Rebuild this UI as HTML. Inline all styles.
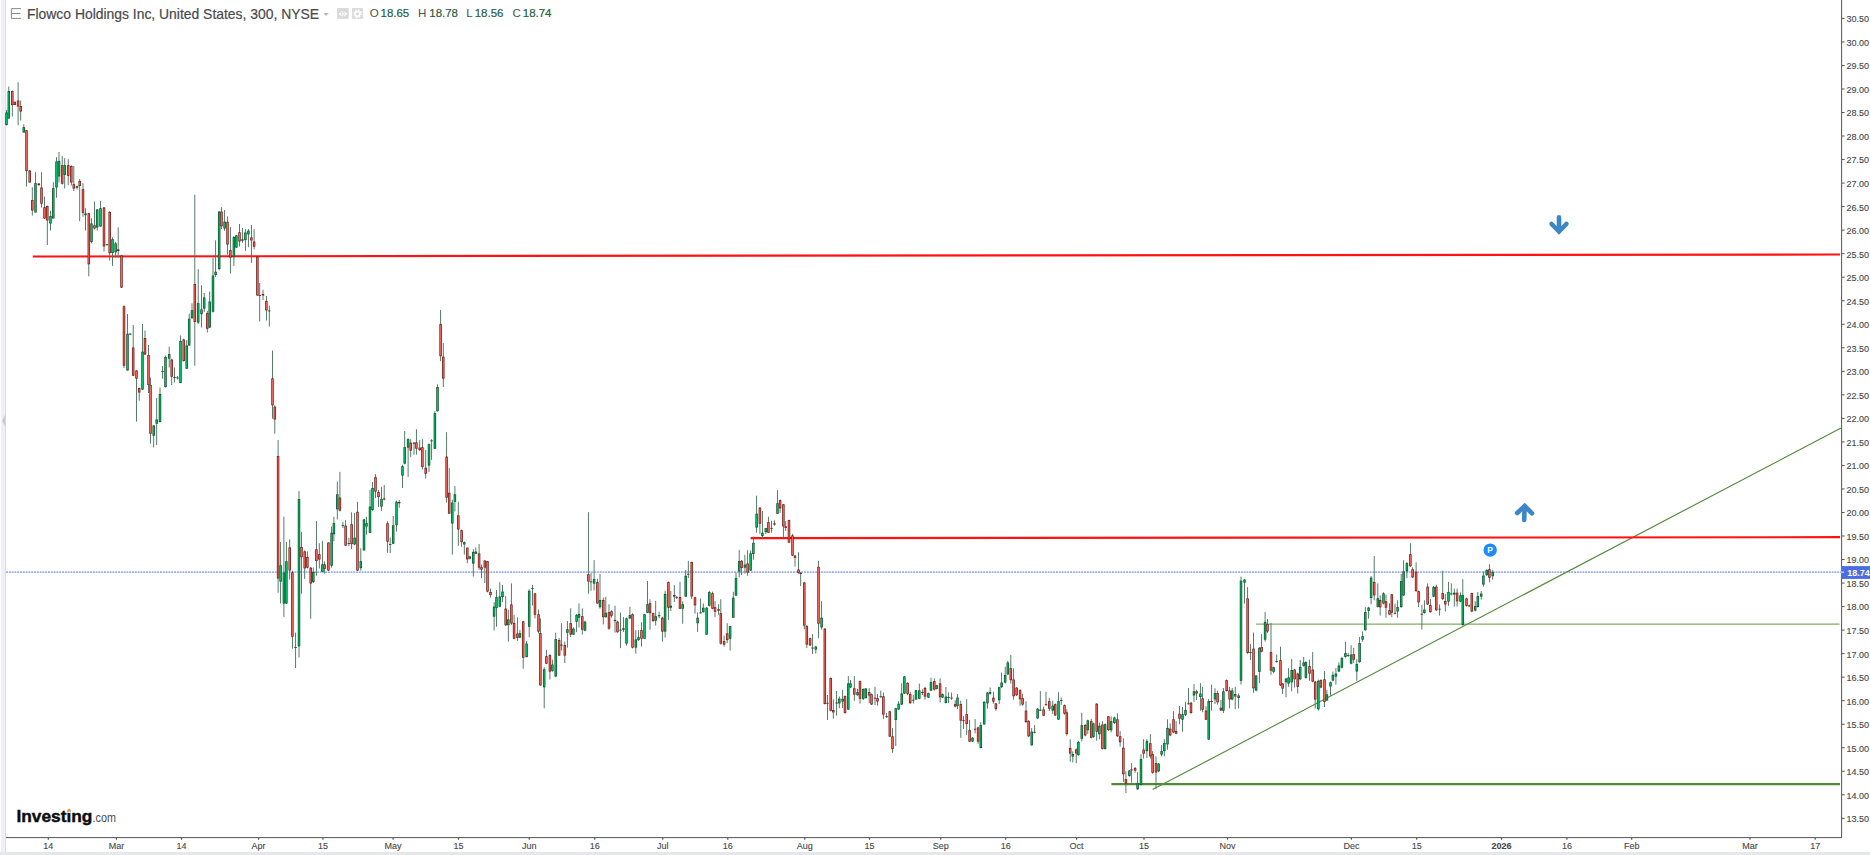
<!DOCTYPE html><html><head><meta charset="utf-8"><title>Flowco Holdings Inc chart</title>
<style>
html,body{margin:0;padding:0;background:#fff;}
body{width:1870px;height:855px;overflow:hidden;position:relative;font-family:"Liberation Sans",sans-serif;}
svg{position:absolute;left:0;top:0;}
text{font-family:"Liberation Sans",sans-serif;}
.ax{font-size:9px;fill:#484848;stroke:#484848;stroke-width:0.12;}
.tt{font-size:14.1px;fill:#4a4a4a;stroke:#4a4a4a;stroke-width:0.2;}
.oh{font-size:11.6px;fill:#4f4f4f;}
.ov{font-size:11.6px;fill:#25603c;stroke:#25603c;stroke-width:0.2;}
</style></head><body>
<svg width="1870" height="855" viewBox="0 0 1870 855">
<rect width="1870" height="855" fill="#fff"/>
<rect x="1" y="0" width="4.3" height="853" fill="#eff0f5"/>
<rect x="5" y="0" width="1" height="853" fill="#dcdfe6"/>
<path d="M5.3 414.5 L2.2 420.5 L5.3 426.5 Z" fill="#c8c8c8"/>
<rect x="0" y="852" width="1870" height="3" fill="#e6e7ea"/>
<rect x="1841" y="0" width="1.1" height="838" fill="#636363"/>
<rect x="6" y="837" width="1836" height="1.1" fill="#636363"/>
<rect x="1842" y="17.90" width="2.6" height="1" fill="#555"/>
<text class="ax" x="1846.6" y="22.30">30.50</text>
<rect x="1842" y="41.43" width="2.6" height="1" fill="#555"/>
<text class="ax" x="1846.6" y="45.83">30.00</text>
<rect x="1842" y="64.95" width="2.6" height="1" fill="#555"/>
<text class="ax" x="1846.6" y="69.35">29.50</text>
<rect x="1842" y="88.48" width="2.6" height="1" fill="#555"/>
<text class="ax" x="1846.6" y="92.88">29.00</text>
<rect x="1842" y="112.01" width="2.6" height="1" fill="#555"/>
<text class="ax" x="1846.6" y="116.41">28.50</text>
<rect x="1842" y="135.53" width="2.6" height="1" fill="#555"/>
<text class="ax" x="1846.6" y="139.94">28.00</text>
<rect x="1842" y="159.06" width="2.6" height="1" fill="#555"/>
<text class="ax" x="1846.6" y="163.46">27.50</text>
<rect x="1842" y="182.59" width="2.6" height="1" fill="#555"/>
<text class="ax" x="1846.6" y="186.99">27.00</text>
<rect x="1842" y="206.12" width="2.6" height="1" fill="#555"/>
<text class="ax" x="1846.6" y="210.52">26.50</text>
<rect x="1842" y="229.64" width="2.6" height="1" fill="#555"/>
<text class="ax" x="1846.6" y="234.04">26.00</text>
<rect x="1842" y="253.17" width="2.6" height="1" fill="#555"/>
<text class="ax" x="1846.6" y="257.57">25.50</text>
<rect x="1842" y="276.70" width="2.6" height="1" fill="#555"/>
<text class="ax" x="1846.6" y="281.10">25.00</text>
<rect x="1842" y="300.22" width="2.6" height="1" fill="#555"/>
<text class="ax" x="1846.6" y="304.62">24.50</text>
<rect x="1842" y="323.75" width="2.6" height="1" fill="#555"/>
<text class="ax" x="1846.6" y="328.15">24.00</text>
<rect x="1842" y="347.28" width="2.6" height="1" fill="#555"/>
<text class="ax" x="1846.6" y="351.68">23.50</text>
<rect x="1842" y="370.81" width="2.6" height="1" fill="#555"/>
<text class="ax" x="1846.6" y="375.20">23.00</text>
<rect x="1842" y="394.33" width="2.6" height="1" fill="#555"/>
<text class="ax" x="1846.6" y="398.73">22.50</text>
<rect x="1842" y="417.86" width="2.6" height="1" fill="#555"/>
<text class="ax" x="1846.6" y="422.26">22.00</text>
<rect x="1842" y="441.39" width="2.6" height="1" fill="#555"/>
<text class="ax" x="1846.6" y="445.79">21.50</text>
<rect x="1842" y="464.91" width="2.6" height="1" fill="#555"/>
<text class="ax" x="1846.6" y="469.31">21.00</text>
<rect x="1842" y="488.44" width="2.6" height="1" fill="#555"/>
<text class="ax" x="1846.6" y="492.84">20.50</text>
<rect x="1842" y="511.97" width="2.6" height="1" fill="#555"/>
<text class="ax" x="1846.6" y="516.37">20.00</text>
<rect x="1842" y="535.49" width="2.6" height="1" fill="#555"/>
<text class="ax" x="1846.6" y="539.89">19.50</text>
<rect x="1842" y="559.02" width="2.6" height="1" fill="#555"/>
<text class="ax" x="1846.6" y="563.42">19.00</text>
<rect x="1842" y="582.55" width="2.6" height="1" fill="#555"/>
<text class="ax" x="1846.6" y="586.95">18.50</text>
<rect x="1842" y="606.08" width="2.6" height="1" fill="#555"/>
<text class="ax" x="1846.6" y="610.48">18.00</text>
<rect x="1842" y="629.60" width="2.6" height="1" fill="#555"/>
<text class="ax" x="1846.6" y="634.00">17.50</text>
<rect x="1842" y="653.13" width="2.6" height="1" fill="#555"/>
<text class="ax" x="1846.6" y="657.53">17.00</text>
<rect x="1842" y="676.66" width="2.6" height="1" fill="#555"/>
<text class="ax" x="1846.6" y="681.06">16.50</text>
<rect x="1842" y="700.18" width="2.6" height="1" fill="#555"/>
<text class="ax" x="1846.6" y="704.58">16.00</text>
<rect x="1842" y="723.71" width="2.6" height="1" fill="#555"/>
<text class="ax" x="1846.6" y="728.11">15.50</text>
<rect x="1842" y="747.24" width="2.6" height="1" fill="#555"/>
<text class="ax" x="1846.6" y="751.64">15.00</text>
<rect x="1842" y="770.76" width="2.6" height="1" fill="#555"/>
<text class="ax" x="1846.6" y="775.16">14.50</text>
<rect x="1842" y="794.29" width="2.6" height="1" fill="#555"/>
<text class="ax" x="1846.6" y="798.69">14.00</text>
<rect x="1842" y="817.82" width="2.6" height="1" fill="#555"/>
<text class="ax" x="1846.6" y="822.22">13.50</text>
<rect x="47.7" y="838" width="1.2" height="1.7" fill="#555"/>
<text class="ax" x="48.3" y="848.5" text-anchor="middle">14</text>
<rect x="115.8" y="838" width="1.2" height="1.7" fill="#555"/>
<text class="ax" x="116.4" y="848.5" text-anchor="middle">Mar</text>
<rect x="180.9" y="838" width="1.2" height="1.7" fill="#555"/>
<text class="ax" x="181.5" y="848.5" text-anchor="middle">14</text>
<rect x="258.0" y="838" width="1.2" height="1.7" fill="#555"/>
<text class="ax" x="258.6" y="848.5" text-anchor="middle">Apr</text>
<rect x="322.3" y="838" width="1.2" height="1.7" fill="#555"/>
<text class="ax" x="322.9" y="848.5" text-anchor="middle">15</text>
<rect x="392.5" y="838" width="1.2" height="1.7" fill="#555"/>
<text class="ax" x="393.1" y="848.5" text-anchor="middle">May</text>
<rect x="457.9" y="838" width="1.2" height="1.7" fill="#555"/>
<text class="ax" x="458.5" y="848.5" text-anchor="middle">15</text>
<rect x="528.7" y="838" width="1.2" height="1.7" fill="#555"/>
<text class="ax" x="529.3" y="848.5" text-anchor="middle">Jun</text>
<rect x="594.1" y="838" width="1.2" height="1.7" fill="#555"/>
<text class="ax" x="594.7" y="848.5" text-anchor="middle">16</text>
<rect x="662.2" y="838" width="1.2" height="1.7" fill="#555"/>
<text class="ax" x="662.8" y="848.5" text-anchor="middle">Jul</text>
<rect x="727.2" y="838" width="1.2" height="1.7" fill="#555"/>
<text class="ax" x="727.8" y="848.5" text-anchor="middle">16</text>
<rect x="804.2" y="838" width="1.2" height="1.7" fill="#555"/>
<text class="ax" x="804.8" y="848.5" text-anchor="middle">Aug</text>
<rect x="868.9" y="838" width="1.2" height="1.7" fill="#555"/>
<text class="ax" x="869.5" y="848.5" text-anchor="middle">15</text>
<rect x="940.1" y="838" width="1.2" height="1.7" fill="#555"/>
<text class="ax" x="940.7" y="848.5" text-anchor="middle">Sep</text>
<rect x="1005.1" y="838" width="1.2" height="1.7" fill="#555"/>
<text class="ax" x="1005.7" y="848.5" text-anchor="middle">16</text>
<rect x="1076.0" y="838" width="1.2" height="1.7" fill="#555"/>
<text class="ax" x="1076.6" y="848.5" text-anchor="middle">Oct</text>
<rect x="1143.4" y="838" width="1.2" height="1.7" fill="#555"/>
<text class="ax" x="1144.0" y="848.5" text-anchor="middle">15</text>
<rect x="1226.9" y="838" width="1.2" height="1.7" fill="#555"/>
<text class="ax" x="1227.5" y="848.5" text-anchor="middle">Nov</text>
<rect x="1350.8" y="838" width="1.2" height="1.7" fill="#555"/>
<text class="ax" x="1351.4" y="848.5" text-anchor="middle">Dec</text>
<rect x="1416.1" y="838" width="1.2" height="1.7" fill="#555"/>
<text class="ax" x="1416.7" y="848.5" text-anchor="middle">15</text>
<rect x="1500.9" y="838" width="1.2" height="1.7" fill="#555"/>
<text class="ax" x="1501.5" y="848.5" text-anchor="middle" font-weight="bold">2026</text>
<rect x="1566.3" y="838" width="1.2" height="1.7" fill="#555"/>
<text class="ax" x="1566.9" y="848.5" text-anchor="middle">16</text>
<rect x="1631.1" y="838" width="1.2" height="1.7" fill="#555"/>
<text class="ax" x="1631.7" y="848.5" text-anchor="middle">Feb</text>
<rect x="1749.4" y="838" width="1.2" height="1.7" fill="#555"/>
<text class="ax" x="1750.0" y="848.5" text-anchor="middle">Mar</text>
<rect x="1814.6" y="838" width="1.2" height="1.7" fill="#555"/>
<text class="ax" x="1815.2" y="848.5" text-anchor="middle">17</text>
<line x1="6" y1="572.1" x2="1841" y2="572.1" stroke="#8fa4ee" stroke-width="1.7" stroke-dasharray="2 0.8" opacity="0.85"/>
<line x1="1111.4" y1="784.1" x2="1840" y2="784.1" stroke="#4d8c35" stroke-width="2.1"/>
<line x1="1256.1" y1="624.2" x2="1839.5" y2="624.2" stroke="#7fae66" stroke-width="1.3"/>
<line x1="1152.6" y1="789.6" x2="1841" y2="428" stroke="#568a3e" stroke-width="1.15"/>
<line x1="32.8" y1="256.5" x2="1840" y2="254.5" stroke="#ff1212" stroke-width="2.2"/>
<line x1="750.6" y1="538.2" x2="1840" y2="537.2" stroke="#ff1212" stroke-width="2.2"/>
<rect x="6.05" y="110.0" width="0.9" height="15.5" fill="#466e5a"/>
<rect x="5.25" y="112.5" width="2.5" height="12.5" fill="#0a5a2e"/>
<rect x="6.05" y="113.3" width="0.9" height="10.9" fill="#00c870"/>
<rect x="8.35" y="86.5" width="0.9" height="32.0" fill="#466e5a"/>
<rect x="7.55" y="91.0" width="2.5" height="27.5" fill="#0a5a2e"/>
<rect x="8.35" y="91.8" width="0.9" height="25.9" fill="#00c870"/>
<rect x="11.85" y="90.5" width="0.9" height="26.0" fill="#466e5a"/>
<rect x="11.05" y="91.0" width="2.5" height="14.0" fill="#7a1f1a"/>
<rect x="11.85" y="91.8" width="0.9" height="12.4" fill="#ff6a60"/>
<rect x="14.35" y="101.5" width="0.9" height="3.5" fill="#466e5a"/>
<rect x="13.55" y="101.8" width="2.5" height="3.2" fill="#7a1f1a"/>
<rect x="14.35" y="102.6" width="0.9" height="1.6" fill="#ff6a60"/>
<rect x="17.65" y="82.2" width="0.9" height="43.0" fill="#466e5a"/>
<rect x="16.85" y="100.5" width="2.5" height="6.0" fill="#7a1f1a"/>
<rect x="17.65" y="101.3" width="0.9" height="4.4" fill="#ff6a60"/>
<rect x="20.25" y="100.5" width="0.9" height="20.0" fill="#466e5a"/>
<rect x="19.45" y="106.0" width="2.5" height="5.5" fill="#7a1f1a"/>
<rect x="20.25" y="106.8" width="0.9" height="3.9" fill="#ff6a60"/>
<rect x="23.35" y="124.3" width="0.9" height="8.2" fill="#466e5a"/>
<rect x="22.55" y="127.2" width="2.5" height="5.3" fill="#0a5a2e"/>
<rect x="23.35" y="128.0" width="0.9" height="3.7" fill="#00c870"/>
<rect x="26.05" y="130.0" width="0.9" height="56.5" fill="#466e5a"/>
<rect x="25.25" y="130.3" width="2.5" height="40.7" fill="#7a1f1a"/>
<rect x="26.05" y="131.1" width="0.9" height="39.1" fill="#ff6a60"/>
<rect x="29.25" y="170.0" width="0.9" height="12.5" fill="#466e5a"/>
<rect x="28.45" y="170.5" width="2.5" height="12.0" fill="#7a1f1a"/>
<rect x="29.25" y="171.3" width="0.9" height="10.4" fill="#ff6a60"/>
<rect x="31.85" y="187.2" width="0.9" height="28.3" fill="#466e5a"/>
<rect x="31.05" y="200.0" width="2.5" height="10.5" fill="#7a1f1a"/>
<rect x="31.85" y="200.8" width="0.9" height="8.9" fill="#ff6a60"/>
<rect x="35.05" y="172.2" width="0.9" height="40.3" fill="#466e5a"/>
<rect x="34.25" y="183.2" width="2.5" height="29.3" fill="#0a5a2e"/>
<rect x="35.05" y="184.0" width="0.9" height="27.7" fill="#00c870"/>
<rect x="38.35" y="183.0" width="0.9" height="2.5" fill="#466e5a"/>
<rect x="37.55" y="183.5" width="2.5" height="1.7" fill="#7a1f1a"/>
<rect x="41.05" y="172.2" width="0.9" height="35.3" fill="#466e5a"/>
<rect x="40.25" y="187.5" width="2.5" height="16.2" fill="#7a1f1a"/>
<rect x="41.05" y="188.3" width="0.9" height="14.6" fill="#ff6a60"/>
<rect x="44.05" y="196.5" width="0.9" height="22.5" fill="#466e5a"/>
<rect x="43.25" y="207.2" width="2.5" height="11.3" fill="#7a1f1a"/>
<rect x="44.05" y="208.0" width="0.9" height="9.7" fill="#ff6a60"/>
<rect x="46.85" y="205.5" width="0.9" height="39.5" fill="#466e5a"/>
<rect x="46.05" y="206.0" width="2.5" height="14.5" fill="#7a1f1a"/>
<rect x="46.85" y="206.8" width="0.9" height="12.9" fill="#ff6a60"/>
<rect x="50.05" y="210.8" width="0.9" height="19.7" fill="#466e5a"/>
<rect x="49.25" y="216.0" width="2.5" height="7.5" fill="#0a5a2e"/>
<rect x="50.05" y="216.8" width="0.9" height="5.9" fill="#00c870"/>
<rect x="52.85" y="182.2" width="0.9" height="36.3" fill="#466e5a"/>
<rect x="52.05" y="188.2" width="2.5" height="30.3" fill="#0a5a2e"/>
<rect x="52.85" y="189.0" width="0.9" height="28.7" fill="#00c870"/>
<rect x="56.05" y="157.2" width="0.9" height="40.6" fill="#466e5a"/>
<rect x="55.25" y="161.5" width="2.5" height="26.0" fill="#0a5a2e"/>
<rect x="56.05" y="162.3" width="0.9" height="24.4" fill="#00c870"/>
<rect x="58.55" y="152.0" width="0.9" height="30.5" fill="#466e5a"/>
<rect x="57.75" y="161.0" width="2.5" height="15.5" fill="#0a5a2e"/>
<rect x="58.55" y="161.8" width="0.9" height="13.9" fill="#00c870"/>
<rect x="61.75" y="156.2" width="0.9" height="28.3" fill="#466e5a"/>
<rect x="60.95" y="165.2" width="2.5" height="18.5" fill="#7a1f1a"/>
<rect x="61.75" y="166.0" width="0.9" height="16.9" fill="#ff6a60"/>
<rect x="64.25" y="158.2" width="0.9" height="30.3" fill="#466e5a"/>
<rect x="63.45" y="165.2" width="2.5" height="9.8" fill="#0a5a2e"/>
<rect x="64.25" y="166.0" width="0.9" height="8.2" fill="#00c870"/>
<rect x="67.75" y="159.2" width="0.9" height="26.0" fill="#466e5a"/>
<rect x="66.95" y="165.2" width="2.5" height="10.6" fill="#7a1f1a"/>
<rect x="67.75" y="166.0" width="0.9" height="9.0" fill="#ff6a60"/>
<rect x="70.85" y="165.5" width="0.9" height="20.0" fill="#466e5a"/>
<rect x="70.05" y="166.0" width="2.5" height="16.5" fill="#7a1f1a"/>
<rect x="70.85" y="166.8" width="0.9" height="14.9" fill="#ff6a60"/>
<rect x="73.35" y="166.0" width="0.9" height="25.0" fill="#466e5a"/>
<rect x="72.55" y="184.2" width="2.5" height="4.3" fill="#7a1f1a"/>
<rect x="73.35" y="185.0" width="0.9" height="2.7" fill="#ff6a60"/>
<rect x="76.55" y="185.5" width="0.9" height="4.0" fill="#466e5a"/>
<rect x="75.75" y="186.2" width="2.5" height="1.6" fill="#0a5a2e"/>
<rect x="79.25" y="179.0" width="0.9" height="42.2" fill="#466e5a"/>
<rect x="78.45" y="181.0" width="2.5" height="5.0" fill="#7a1f1a"/>
<rect x="79.25" y="181.8" width="0.9" height="3.4" fill="#ff6a60"/>
<rect x="82.55" y="183.2" width="0.9" height="33.6" fill="#466e5a"/>
<rect x="81.75" y="189.2" width="2.5" height="23.6" fill="#7a1f1a"/>
<rect x="82.55" y="190.0" width="0.9" height="22.0" fill="#ff6a60"/>
<rect x="85.05" y="208.2" width="0.9" height="22.3" fill="#466e5a"/>
<rect x="84.25" y="213.5" width="2.5" height="1.7" fill="#0a5a2e"/>
<rect x="88.35" y="213.0" width="0.9" height="63.3" fill="#466e5a"/>
<rect x="87.55" y="213.2" width="2.5" height="51.1" fill="#7a1f1a"/>
<rect x="88.35" y="214.0" width="0.9" height="49.5" fill="#ff6a60"/>
<rect x="91.05" y="218.2" width="0.9" height="25.2" fill="#466e5a"/>
<rect x="90.25" y="223.5" width="2.5" height="18.4" fill="#0a5a2e"/>
<rect x="91.05" y="224.3" width="0.9" height="16.8" fill="#00c870"/>
<rect x="94.05" y="201.5" width="0.9" height="28.0" fill="#466e5a"/>
<rect x="93.25" y="225.2" width="2.5" height="3.3" fill="#7a1f1a"/>
<rect x="94.05" y="226.0" width="0.9" height="1.7" fill="#ff6a60"/>
<rect x="96.75" y="209.0" width="0.9" height="21.5" fill="#466e5a"/>
<rect x="95.95" y="209.5" width="2.5" height="18.0" fill="#0a5a2e"/>
<rect x="96.75" y="210.3" width="0.9" height="16.4" fill="#00c870"/>
<rect x="100.05" y="200.8" width="0.9" height="26.0" fill="#466e5a"/>
<rect x="99.25" y="208.2" width="2.5" height="18.3" fill="#0a5a2e"/>
<rect x="100.05" y="209.0" width="0.9" height="16.7" fill="#00c870"/>
<rect x="103.55" y="207.0" width="0.9" height="44.6" fill="#466e5a"/>
<rect x="102.75" y="207.5" width="2.5" height="38.9" fill="#7a1f1a"/>
<rect x="103.55" y="208.3" width="0.9" height="37.3" fill="#ff6a60"/>
<rect x="106.55" y="244.0" width="0.9" height="1.5" fill="#466e5a"/>
<rect x="105.75" y="244.3" width="2.5" height="0.9" fill="#0a5a2e"/>
<rect x="109.25" y="211.2" width="0.9" height="49.4" fill="#466e5a"/>
<rect x="108.45" y="212.0" width="2.5" height="41.1" fill="#7a1f1a"/>
<rect x="109.25" y="212.8" width="0.9" height="39.5" fill="#ff6a60"/>
<rect x="112.05" y="237.4" width="0.9" height="28.5" fill="#466e5a"/>
<rect x="111.25" y="239.2" width="2.5" height="13.9" fill="#0a5a2e"/>
<rect x="112.05" y="240.0" width="0.9" height="12.3" fill="#00c870"/>
<rect x="115.15" y="241.9" width="0.9" height="15.7" fill="#466e5a"/>
<rect x="114.35" y="243.4" width="2.5" height="9.0" fill="#0a5a2e"/>
<rect x="115.15" y="244.2" width="0.9" height="7.4" fill="#00c870"/>
<rect x="117.75" y="227.3" width="0.9" height="30.4" fill="#466e5a"/>
<rect x="116.95" y="249.3" width="2.5" height="1.7" fill="#7a1f1a"/>
<rect x="121.05" y="255.0" width="0.9" height="33.0" fill="#466e5a"/>
<rect x="120.25" y="255.4" width="2.5" height="32.2" fill="#7a1f1a"/>
<rect x="121.05" y="256.2" width="0.9" height="30.6" fill="#ff6a60"/>
<rect x="123.55" y="305.5" width="0.9" height="62.5" fill="#466e5a"/>
<rect x="122.75" y="306.3" width="2.5" height="59.4" fill="#7a1f1a"/>
<rect x="123.55" y="307.1" width="0.9" height="57.8" fill="#ff6a60"/>
<rect x="127.05" y="314.0" width="0.9" height="56.5" fill="#466e5a"/>
<rect x="126.25" y="333.7" width="2.5" height="36.8" fill="#0a5a2e"/>
<rect x="127.05" y="334.5" width="0.9" height="35.2" fill="#00c870"/>
<rect x="129.75" y="333.0" width="0.9" height="2.0" fill="#466e5a"/>
<rect x="128.95" y="333.7" width="2.5" height="0.9" fill="#0a5a2e"/>
<rect x="132.75" y="325.0" width="0.9" height="51.0" fill="#466e5a"/>
<rect x="131.95" y="347.5" width="2.5" height="28.2" fill="#7a1f1a"/>
<rect x="132.75" y="348.3" width="0.9" height="26.6" fill="#ff6a60"/>
<rect x="136.05" y="370.0" width="0.9" height="51.7" fill="#466e5a"/>
<rect x="135.25" y="370.5" width="2.5" height="8.2" fill="#7a1f1a"/>
<rect x="136.05" y="371.3" width="0.9" height="6.6" fill="#ff6a60"/>
<rect x="138.75" y="387.5" width="0.9" height="13.2" fill="#466e5a"/>
<rect x="137.95" y="388.0" width="2.5" height="4.5" fill="#7a1f1a"/>
<rect x="138.75" y="388.8" width="0.9" height="2.9" fill="#ff6a60"/>
<rect x="142.05" y="324.0" width="0.9" height="66.0" fill="#466e5a"/>
<rect x="141.25" y="351.7" width="2.5" height="37.8" fill="#0a5a2e"/>
<rect x="142.05" y="352.5" width="0.9" height="36.2" fill="#00c870"/>
<rect x="144.55" y="330.5" width="0.9" height="24.5" fill="#466e5a"/>
<rect x="143.75" y="338.0" width="2.5" height="16.5" fill="#7a1f1a"/>
<rect x="144.55" y="338.8" width="0.9" height="14.9" fill="#ff6a60"/>
<rect x="148.05" y="345.0" width="0.9" height="48.0" fill="#466e5a"/>
<rect x="147.25" y="355.0" width="2.5" height="30.0" fill="#7a1f1a"/>
<rect x="148.05" y="355.8" width="0.9" height="28.4" fill="#ff6a60"/>
<rect x="150.05" y="377.5" width="0.9" height="66.2" fill="#466e5a"/>
<rect x="149.25" y="385.0" width="2.5" height="48.7" fill="#7a1f1a"/>
<rect x="150.05" y="385.8" width="0.9" height="47.1" fill="#ff6a60"/>
<rect x="153.25" y="425.0" width="0.9" height="22.5" fill="#466e5a"/>
<rect x="152.45" y="425.5" width="2.5" height="10.2" fill="#0a5a2e"/>
<rect x="153.25" y="426.3" width="0.9" height="8.6" fill="#00c870"/>
<rect x="156.25" y="398.0" width="0.9" height="47.0" fill="#466e5a"/>
<rect x="155.45" y="419.5" width="2.5" height="4.2" fill="#0a5a2e"/>
<rect x="156.25" y="420.3" width="0.9" height="2.6" fill="#00c870"/>
<rect x="159.55" y="387.5" width="0.9" height="35.0" fill="#466e5a"/>
<rect x="158.75" y="394.0" width="2.5" height="28.0" fill="#0a5a2e"/>
<rect x="159.55" y="394.8" width="0.9" height="26.4" fill="#00c870"/>
<rect x="162.05" y="366.0" width="0.9" height="12.7" fill="#466e5a"/>
<rect x="161.25" y="371.0" width="2.5" height="0.9" fill="#0a5a2e"/>
<rect x="165.05" y="355.5" width="0.9" height="32.0" fill="#466e5a"/>
<rect x="164.25" y="357.0" width="2.5" height="30.0" fill="#0a5a2e"/>
<rect x="165.05" y="357.8" width="0.9" height="28.4" fill="#00c870"/>
<rect x="168.75" y="346.7" width="0.9" height="20.8" fill="#466e5a"/>
<rect x="167.95" y="354.0" width="2.5" height="4.7" fill="#0a5a2e"/>
<rect x="168.75" y="354.8" width="0.9" height="3.1" fill="#00c870"/>
<rect x="171.25" y="358.7" width="0.9" height="26.3" fill="#466e5a"/>
<rect x="170.45" y="359.5" width="2.5" height="17.2" fill="#7a1f1a"/>
<rect x="171.25" y="360.3" width="0.9" height="15.6" fill="#ff6a60"/>
<rect x="174.05" y="367.5" width="0.9" height="15.0" fill="#466e5a"/>
<rect x="173.25" y="377.0" width="2.5" height="0.9" fill="#7a1f1a"/>
<rect x="177.05" y="376.0" width="0.9" height="3.5" fill="#466e5a"/>
<rect x="176.25" y="377.4" width="2.5" height="0.9" fill="#0a5a2e"/>
<rect x="180.05" y="335.5" width="0.9" height="47.5" fill="#466e5a"/>
<rect x="179.25" y="341.0" width="2.5" height="42.0" fill="#0a5a2e"/>
<rect x="180.05" y="341.8" width="0.9" height="40.4" fill="#00c870"/>
<rect x="183.25" y="338.7" width="0.9" height="23.0" fill="#466e5a"/>
<rect x="182.45" y="339.5" width="2.5" height="21.5" fill="#7a1f1a"/>
<rect x="183.25" y="340.3" width="0.9" height="19.9" fill="#ff6a60"/>
<rect x="186.25" y="340.0" width="0.9" height="29.0" fill="#466e5a"/>
<rect x="185.45" y="345.5" width="2.5" height="23.2" fill="#0a5a2e"/>
<rect x="186.25" y="346.3" width="0.9" height="21.6" fill="#00c870"/>
<rect x="188.75" y="313.7" width="0.9" height="32.0" fill="#466e5a"/>
<rect x="187.95" y="318.7" width="2.5" height="26.8" fill="#0a5a2e"/>
<rect x="188.75" y="319.5" width="0.9" height="25.2" fill="#00c870"/>
<rect x="191.55" y="303.2" width="0.9" height="15.5" fill="#466e5a"/>
<rect x="190.75" y="310.2" width="2.5" height="8.0" fill="#0a5a2e"/>
<rect x="191.55" y="311.0" width="0.9" height="6.4" fill="#00c870"/>
<rect x="194.35" y="194.7" width="0.9" height="171.0" fill="#466e5a"/>
<rect x="193.55" y="284.0" width="2.5" height="38.0" fill="#7a1f1a"/>
<rect x="194.35" y="284.8" width="0.9" height="36.4" fill="#ff6a60"/>
<rect x="197.75" y="269.1" width="0.9" height="54.9" fill="#466e5a"/>
<rect x="196.95" y="303.2" width="2.5" height="19.4" fill="#0a5a2e"/>
<rect x="197.75" y="304.0" width="0.9" height="17.8" fill="#00c870"/>
<rect x="201.05" y="285.2" width="0.9" height="42.3" fill="#466e5a"/>
<rect x="200.25" y="309.4" width="2.5" height="4.8" fill="#0a5a2e"/>
<rect x="201.05" y="310.2" width="0.9" height="3.2" fill="#00c870"/>
<rect x="203.75" y="293.0" width="0.9" height="19.0" fill="#466e5a"/>
<rect x="202.95" y="297.5" width="2.5" height="11.1" fill="#0a5a2e"/>
<rect x="203.75" y="298.3" width="0.9" height="9.5" fill="#00c870"/>
<rect x="206.85" y="311.0" width="0.9" height="21.5" fill="#466e5a"/>
<rect x="206.05" y="313.2" width="2.5" height="15.5" fill="#7a1f1a"/>
<rect x="206.85" y="314.0" width="0.9" height="13.9" fill="#ff6a60"/>
<rect x="209.25" y="291.5" width="0.9" height="36.5" fill="#466e5a"/>
<rect x="208.45" y="301.5" width="2.5" height="26.0" fill="#0a5a2e"/>
<rect x="209.25" y="302.3" width="0.9" height="24.4" fill="#00c870"/>
<rect x="212.55" y="257.5" width="0.9" height="55.0" fill="#466e5a"/>
<rect x="211.75" y="275.6" width="2.5" height="36.1" fill="#0a5a2e"/>
<rect x="212.55" y="276.4" width="0.9" height="34.5" fill="#00c870"/>
<rect x="215.15" y="240.4" width="0.9" height="36.6" fill="#466e5a"/>
<rect x="214.35" y="271.7" width="2.5" height="3.3" fill="#0a5a2e"/>
<rect x="215.15" y="272.5" width="0.9" height="1.7" fill="#00c870"/>
<rect x="218.75" y="211.2" width="0.9" height="59.2" fill="#466e5a"/>
<rect x="217.95" y="211.5" width="2.5" height="57.4" fill="#0a5a2e"/>
<rect x="218.75" y="212.3" width="0.9" height="55.8" fill="#00c870"/>
<rect x="221.05" y="207.2" width="0.9" height="21.8" fill="#466e5a"/>
<rect x="220.25" y="211.7" width="2.5" height="14.6" fill="#7a1f1a"/>
<rect x="221.05" y="212.5" width="0.9" height="13.0" fill="#ff6a60"/>
<rect x="224.15" y="210.0" width="0.9" height="20.8" fill="#466e5a"/>
<rect x="223.35" y="221.7" width="2.5" height="6.8" fill="#0a5a2e"/>
<rect x="224.15" y="222.5" width="0.9" height="5.2" fill="#00c870"/>
<rect x="227.05" y="216.4" width="0.9" height="38.2" fill="#466e5a"/>
<rect x="226.25" y="221.8" width="2.5" height="22.7" fill="#7a1f1a"/>
<rect x="227.05" y="222.6" width="0.9" height="21.1" fill="#ff6a60"/>
<rect x="229.95" y="227.1" width="0.9" height="46.3" fill="#466e5a"/>
<rect x="229.15" y="250.1" width="2.5" height="7.5" fill="#7a1f1a"/>
<rect x="229.95" y="250.9" width="0.9" height="5.9" fill="#ff6a60"/>
<rect x="233.45" y="236.0" width="0.9" height="29.9" fill="#466e5a"/>
<rect x="232.65" y="237.1" width="2.5" height="20.1" fill="#0a5a2e"/>
<rect x="233.45" y="237.9" width="0.9" height="18.5" fill="#00c870"/>
<rect x="235.95" y="235.0" width="0.9" height="13.0" fill="#466e5a"/>
<rect x="235.15" y="235.3" width="2.5" height="12.3" fill="#0a5a2e"/>
<rect x="235.95" y="236.1" width="0.9" height="10.7" fill="#00c870"/>
<rect x="239.05" y="224.0" width="0.9" height="22.4" fill="#466e5a"/>
<rect x="238.25" y="232.2" width="2.5" height="9.3" fill="#7a1f1a"/>
<rect x="239.05" y="233.0" width="0.9" height="7.7" fill="#ff6a60"/>
<rect x="241.95" y="227.8" width="0.9" height="14.9" fill="#466e5a"/>
<rect x="241.15" y="239.3" width="2.5" height="1.4" fill="#0a5a2e"/>
<rect x="244.95" y="229.2" width="0.9" height="21.7" fill="#466e5a"/>
<rect x="244.15" y="232.5" width="2.5" height="7.6" fill="#0a5a2e"/>
<rect x="244.95" y="233.3" width="0.9" height="6.0" fill="#00c870"/>
<rect x="247.95" y="229.0" width="0.9" height="18.2" fill="#466e5a"/>
<rect x="247.15" y="230.7" width="2.5" height="3.7" fill="#0a5a2e"/>
<rect x="247.95" y="231.5" width="0.9" height="2.1" fill="#00c870"/>
<rect x="250.95" y="224.9" width="0.9" height="38.0" fill="#466e5a"/>
<rect x="250.15" y="237.4" width="2.5" height="3.0" fill="#7a1f1a"/>
<rect x="250.95" y="238.2" width="0.9" height="1.4" fill="#ff6a60"/>
<rect x="253.65" y="229.2" width="0.9" height="20.2" fill="#466e5a"/>
<rect x="252.85" y="241.6" width="2.5" height="5.1" fill="#7a1f1a"/>
<rect x="253.65" y="242.4" width="0.9" height="3.5" fill="#ff6a60"/>
<rect x="256.95" y="256.0" width="0.9" height="39.8" fill="#466e5a"/>
<rect x="256.15" y="256.6" width="2.5" height="38.8" fill="#7a1f1a"/>
<rect x="256.95" y="257.4" width="0.9" height="37.2" fill="#ff6a60"/>
<rect x="259.25" y="283.0" width="0.9" height="38.4" fill="#466e5a"/>
<rect x="258.45" y="295.0" width="2.5" height="0.9" fill="#7a1f1a"/>
<rect x="262.55" y="289.8" width="0.9" height="10.2" fill="#466e5a"/>
<rect x="261.75" y="294.0" width="2.5" height="1.5" fill="#7a1f1a"/>
<rect x="265.95" y="295.9" width="0.9" height="24.7" fill="#466e5a"/>
<rect x="265.15" y="300.9" width="2.5" height="9.5" fill="#7a1f1a"/>
<rect x="265.95" y="301.7" width="0.9" height="7.9" fill="#ff6a60"/>
<rect x="268.85" y="305.6" width="0.9" height="21.0" fill="#466e5a"/>
<rect x="268.05" y="310.5" width="2.5" height="0.9" fill="#0a5a2e"/>
<rect x="272.05" y="350.6" width="0.9" height="68.1" fill="#466e5a"/>
<rect x="271.25" y="378.3" width="2.5" height="27.0" fill="#7a1f1a"/>
<rect x="272.05" y="379.1" width="0.9" height="25.4" fill="#ff6a60"/>
<rect x="274.35" y="405.2" width="0.9" height="28.5" fill="#466e5a"/>
<rect x="273.55" y="406.7" width="2.5" height="12.8" fill="#7a1f1a"/>
<rect x="274.35" y="407.5" width="0.9" height="11.2" fill="#ff6a60"/>
<rect x="277.65" y="440.1" width="0.9" height="152.7" fill="#466e5a"/>
<rect x="276.85" y="456.1" width="2.5" height="122.4" fill="#7a1f1a"/>
<rect x="277.65" y="456.9" width="0.9" height="120.8" fill="#ff6a60"/>
<rect x="280.15" y="541.9" width="0.9" height="61.5" fill="#466e5a"/>
<rect x="279.35" y="565.3" width="2.5" height="16.3" fill="#0a5a2e"/>
<rect x="280.15" y="566.1" width="0.9" height="14.7" fill="#00c870"/>
<rect x="283.45" y="516.8" width="0.9" height="100.1" fill="#466e5a"/>
<rect x="282.65" y="572.6" width="2.5" height="31.0" fill="#0a5a2e"/>
<rect x="283.45" y="573.4" width="0.9" height="29.4" fill="#00c870"/>
<rect x="285.95" y="541.9" width="0.9" height="62.1" fill="#466e5a"/>
<rect x="285.15" y="561.3" width="2.5" height="42.2" fill="#0a5a2e"/>
<rect x="285.95" y="562.1" width="0.9" height="40.6" fill="#00c870"/>
<rect x="289.25" y="539.3" width="0.9" height="40.3" fill="#466e5a"/>
<rect x="288.45" y="547.4" width="2.5" height="23.1" fill="#7a1f1a"/>
<rect x="289.25" y="548.2" width="0.9" height="21.5" fill="#ff6a60"/>
<rect x="291.95" y="570.6" width="0.9" height="78.2" fill="#466e5a"/>
<rect x="291.15" y="572.3" width="2.5" height="64.4" fill="#7a1f1a"/>
<rect x="291.95" y="573.1" width="0.9" height="62.8" fill="#ff6a60"/>
<rect x="295.15" y="632.6" width="0.9" height="35.4" fill="#466e5a"/>
<rect x="294.35" y="647.0" width="2.5" height="0.9" fill="#0a5a2e"/>
<rect x="298.55" y="490.9" width="0.9" height="166.6" fill="#466e5a"/>
<rect x="297.75" y="499.1" width="2.5" height="147.2" fill="#0a5a2e"/>
<rect x="298.55" y="499.9" width="0.9" height="145.6" fill="#00c870"/>
<rect x="301.05" y="531.9" width="0.9" height="61.8" fill="#466e5a"/>
<rect x="300.25" y="547.0" width="2.5" height="10.2" fill="#7a1f1a"/>
<rect x="301.05" y="547.8" width="0.9" height="8.6" fill="#ff6a60"/>
<rect x="304.25" y="550.4" width="0.9" height="28.5" fill="#466e5a"/>
<rect x="303.45" y="551.4" width="2.5" height="17.0" fill="#7a1f1a"/>
<rect x="304.25" y="552.2" width="0.9" height="15.4" fill="#ff6a60"/>
<rect x="306.95" y="551.4" width="0.9" height="17.0" fill="#466e5a"/>
<rect x="306.15" y="557.0" width="2.5" height="10.7" fill="#7a1f1a"/>
<rect x="306.95" y="557.8" width="0.9" height="9.1" fill="#ff6a60"/>
<rect x="310.25" y="567.0" width="0.9" height="51.8" fill="#466e5a"/>
<rect x="309.45" y="567.7" width="2.5" height="15.8" fill="#7a1f1a"/>
<rect x="310.25" y="568.5" width="0.9" height="14.2" fill="#ff6a60"/>
<rect x="312.85" y="567.5" width="0.9" height="15.5" fill="#466e5a"/>
<rect x="312.05" y="572.0" width="2.5" height="10.2" fill="#0a5a2e"/>
<rect x="312.85" y="572.8" width="0.9" height="8.6" fill="#00c870"/>
<rect x="315.95" y="520.9" width="0.9" height="54.9" fill="#466e5a"/>
<rect x="315.15" y="549.3" width="2.5" height="11.8" fill="#7a1f1a"/>
<rect x="315.95" y="550.1" width="0.9" height="10.2" fill="#ff6a60"/>
<rect x="318.85" y="543.2" width="0.9" height="25.3" fill="#466e5a"/>
<rect x="318.05" y="554.2" width="2.5" height="5.3" fill="#7a1f1a"/>
<rect x="318.85" y="555.0" width="0.9" height="3.7" fill="#ff6a60"/>
<rect x="321.95" y="541.0" width="0.9" height="31.2" fill="#466e5a"/>
<rect x="321.15" y="564.4" width="2.5" height="7.3" fill="#0a5a2e"/>
<rect x="321.95" y="565.2" width="0.9" height="5.7" fill="#00c870"/>
<rect x="324.15" y="561.3" width="0.9" height="12.3" fill="#466e5a"/>
<rect x="323.35" y="564.4" width="2.5" height="4.4" fill="#7a1f1a"/>
<rect x="324.15" y="565.2" width="0.9" height="2.8" fill="#ff6a60"/>
<rect x="327.95" y="542.2" width="0.9" height="28.8" fill="#466e5a"/>
<rect x="327.15" y="542.6" width="2.5" height="27.9" fill="#7a1f1a"/>
<rect x="327.95" y="543.4" width="0.9" height="26.3" fill="#ff6a60"/>
<rect x="331.15" y="526.6" width="0.9" height="41.0" fill="#466e5a"/>
<rect x="330.35" y="532.7" width="2.5" height="33.0" fill="#0a5a2e"/>
<rect x="331.15" y="533.5" width="0.9" height="31.4" fill="#00c870"/>
<rect x="333.45" y="516.8" width="0.9" height="24.6" fill="#466e5a"/>
<rect x="332.65" y="523.2" width="2.5" height="11.0" fill="#0a5a2e"/>
<rect x="333.45" y="524.0" width="0.9" height="9.4" fill="#00c870"/>
<rect x="336.85" y="481.6" width="0.9" height="37.9" fill="#466e5a"/>
<rect x="336.05" y="494.3" width="2.5" height="15.0" fill="#0a5a2e"/>
<rect x="336.85" y="495.1" width="0.9" height="13.4" fill="#00c870"/>
<rect x="339.45" y="471.9" width="0.9" height="39.6" fill="#466e5a"/>
<rect x="338.65" y="497.6" width="2.5" height="13.0" fill="#7a1f1a"/>
<rect x="339.45" y="498.4" width="0.9" height="11.4" fill="#ff6a60"/>
<rect x="342.45" y="522.0" width="0.9" height="6.0" fill="#466e5a"/>
<rect x="341.65" y="525.0" width="2.5" height="0.9" fill="#0a5a2e"/>
<rect x="345.15" y="520.2" width="0.9" height="25.8" fill="#466e5a"/>
<rect x="344.35" y="525.7" width="2.5" height="19.9" fill="#7a1f1a"/>
<rect x="345.15" y="526.5" width="0.9" height="18.3" fill="#ff6a60"/>
<rect x="348.45" y="537.7" width="0.9" height="8.3" fill="#466e5a"/>
<rect x="347.65" y="543.0" width="2.5" height="0.9" fill="#0a5a2e"/>
<rect x="351.15" y="512.3" width="0.9" height="36.9" fill="#466e5a"/>
<rect x="350.35" y="524.2" width="2.5" height="19.9" fill="#7a1f1a"/>
<rect x="351.15" y="525.0" width="0.9" height="18.3" fill="#ff6a60"/>
<rect x="354.15" y="513.0" width="0.9" height="32.2" fill="#466e5a"/>
<rect x="353.35" y="537.7" width="2.5" height="6.7" fill="#0a5a2e"/>
<rect x="354.15" y="538.5" width="0.9" height="5.1" fill="#00c870"/>
<rect x="357.05" y="501.8" width="0.9" height="69.2" fill="#466e5a"/>
<rect x="356.25" y="511.8" width="2.5" height="58.8" fill="#7a1f1a"/>
<rect x="357.05" y="512.6" width="0.9" height="57.2" fill="#ff6a60"/>
<rect x="360.35" y="548.2" width="0.9" height="22.4" fill="#466e5a"/>
<rect x="359.55" y="561.2" width="2.5" height="6.9" fill="#0a5a2e"/>
<rect x="360.35" y="562.0" width="0.9" height="5.3" fill="#00c870"/>
<rect x="363.55" y="518.7" width="0.9" height="32.0" fill="#466e5a"/>
<rect x="362.75" y="519.4" width="2.5" height="31.0" fill="#0a5a2e"/>
<rect x="363.55" y="520.2" width="0.9" height="29.4" fill="#00c870"/>
<rect x="366.05" y="516.8" width="0.9" height="17.9" fill="#466e5a"/>
<rect x="365.25" y="523.1" width="2.5" height="3.4" fill="#0a5a2e"/>
<rect x="366.05" y="523.9" width="0.9" height="1.8" fill="#00c870"/>
<rect x="369.55" y="489.8" width="0.9" height="43.4" fill="#466e5a"/>
<rect x="368.75" y="506.6" width="2.5" height="26.2" fill="#0a5a2e"/>
<rect x="369.55" y="507.4" width="0.9" height="24.6" fill="#00c870"/>
<rect x="372.05" y="482.0" width="0.9" height="28.8" fill="#466e5a"/>
<rect x="371.25" y="488.0" width="2.5" height="22.0" fill="#0a5a2e"/>
<rect x="372.05" y="488.8" width="0.9" height="20.4" fill="#00c870"/>
<rect x="375.05" y="474.1" width="0.9" height="23.9" fill="#466e5a"/>
<rect x="374.25" y="477.1" width="2.5" height="14.5" fill="#7a1f1a"/>
<rect x="375.05" y="477.9" width="0.9" height="12.9" fill="#ff6a60"/>
<rect x="378.05" y="489.8" width="0.9" height="17.2" fill="#466e5a"/>
<rect x="377.25" y="492.0" width="2.5" height="5.0" fill="#7a1f1a"/>
<rect x="378.05" y="492.8" width="0.9" height="3.4" fill="#ff6a60"/>
<rect x="381.05" y="486.8" width="0.9" height="24.0" fill="#466e5a"/>
<rect x="380.25" y="498.8" width="2.5" height="7.8" fill="#0a5a2e"/>
<rect x="381.05" y="499.6" width="0.9" height="6.2" fill="#00c870"/>
<rect x="383.75" y="485.0" width="0.9" height="15.3" fill="#466e5a"/>
<rect x="382.95" y="498.5" width="2.5" height="1.0" fill="#7a1f1a"/>
<rect x="387.05" y="521.3" width="0.9" height="31.4" fill="#466e5a"/>
<rect x="386.25" y="523.3" width="2.5" height="18.4" fill="#7a1f1a"/>
<rect x="387.05" y="524.1" width="0.9" height="16.8" fill="#ff6a60"/>
<rect x="389.75" y="537.7" width="0.9" height="15.4" fill="#466e5a"/>
<rect x="388.95" y="544.0" width="2.5" height="0.9" fill="#0a5a2e"/>
<rect x="392.75" y="516.0" width="0.9" height="28.1" fill="#466e5a"/>
<rect x="391.95" y="525.3" width="2.5" height="18.4" fill="#0a5a2e"/>
<rect x="392.75" y="526.1" width="0.9" height="16.8" fill="#00c870"/>
<rect x="396.05" y="500.6" width="0.9" height="31.1" fill="#466e5a"/>
<rect x="395.25" y="501.8" width="2.5" height="23.4" fill="#0a5a2e"/>
<rect x="396.05" y="502.6" width="0.9" height="21.8" fill="#00c870"/>
<rect x="398.75" y="500.0" width="0.9" height="7.8" fill="#466e5a"/>
<rect x="397.95" y="502.0" width="2.5" height="1.3" fill="#7a1f1a"/>
<rect x="402.05" y="464.7" width="0.9" height="23.3" fill="#466e5a"/>
<rect x="401.25" y="466.2" width="2.5" height="9.4" fill="#0a5a2e"/>
<rect x="402.05" y="467.0" width="0.9" height="7.8" fill="#00c870"/>
<rect x="404.25" y="431.0" width="0.9" height="33.4" fill="#466e5a"/>
<rect x="403.45" y="447.2" width="2.5" height="16.4" fill="#0a5a2e"/>
<rect x="404.25" y="448.0" width="0.9" height="14.8" fill="#00c870"/>
<rect x="407.65" y="438.2" width="0.9" height="38.9" fill="#466e5a"/>
<rect x="406.85" y="439.2" width="2.5" height="8.4" fill="#0a5a2e"/>
<rect x="407.65" y="440.0" width="0.9" height="6.8" fill="#00c870"/>
<rect x="410.25" y="439.2" width="0.9" height="17.7" fill="#466e5a"/>
<rect x="409.45" y="442.7" width="2.5" height="7.9" fill="#7a1f1a"/>
<rect x="410.25" y="443.5" width="0.9" height="6.3" fill="#ff6a60"/>
<rect x="413.55" y="441.9" width="0.9" height="12.7" fill="#466e5a"/>
<rect x="412.75" y="442.7" width="2.5" height="1.0" fill="#7a1f1a"/>
<rect x="415.95" y="429.2" width="0.9" height="25.4" fill="#466e5a"/>
<rect x="415.15" y="442.4" width="2.5" height="6.3" fill="#7a1f1a"/>
<rect x="415.95" y="443.2" width="0.9" height="4.7" fill="#ff6a60"/>
<rect x="419.25" y="440.1" width="0.9" height="10.8" fill="#466e5a"/>
<rect x="418.45" y="447.6" width="2.5" height="2.5" fill="#7a1f1a"/>
<rect x="419.25" y="448.4" width="0.9" height="0.9" fill="#ff6a60"/>
<rect x="421.95" y="439.2" width="0.9" height="30.4" fill="#466e5a"/>
<rect x="421.15" y="447.2" width="2.5" height="19.8" fill="#7a1f1a"/>
<rect x="421.95" y="448.0" width="0.9" height="18.2" fill="#ff6a60"/>
<rect x="425.25" y="450.1" width="0.9" height="28.5" fill="#466e5a"/>
<rect x="424.45" y="467.7" width="2.5" height="6.0" fill="#7a1f1a"/>
<rect x="425.25" y="468.5" width="0.9" height="4.4" fill="#ff6a60"/>
<rect x="428.55" y="443.4" width="0.9" height="28.5" fill="#466e5a"/>
<rect x="427.75" y="444.2" width="2.5" height="21.4" fill="#0a5a2e"/>
<rect x="428.55" y="445.0" width="0.9" height="19.8" fill="#00c870"/>
<rect x="431.15" y="439.2" width="0.9" height="20.7" fill="#466e5a"/>
<rect x="430.35" y="440.4" width="2.5" height="0.9" fill="#0a5a2e"/>
<rect x="434.45" y="411.2" width="0.9" height="37.8" fill="#466e5a"/>
<rect x="433.65" y="413.2" width="2.5" height="35.5" fill="#0a5a2e"/>
<rect x="434.45" y="414.0" width="0.9" height="33.9" fill="#00c870"/>
<rect x="437.05" y="384.3" width="0.9" height="27.2" fill="#466e5a"/>
<rect x="436.25" y="387.0" width="2.5" height="24.3" fill="#0a5a2e"/>
<rect x="437.05" y="387.8" width="0.9" height="22.7" fill="#00c870"/>
<rect x="440.15" y="309.9" width="0.9" height="51.2" fill="#466e5a"/>
<rect x="439.35" y="324.1" width="2.5" height="32.1" fill="#7a1f1a"/>
<rect x="440.15" y="324.9" width="0.9" height="30.5" fill="#ff6a60"/>
<rect x="442.85" y="343.1" width="0.9" height="43.9" fill="#466e5a"/>
<rect x="442.05" y="356.6" width="2.5" height="22.0" fill="#7a1f1a"/>
<rect x="442.85" y="357.4" width="0.9" height="20.4" fill="#ff6a60"/>
<rect x="446.15" y="432.2" width="0.9" height="70.3" fill="#466e5a"/>
<rect x="445.35" y="456.6" width="2.5" height="41.0" fill="#7a1f1a"/>
<rect x="446.15" y="457.4" width="0.9" height="39.4" fill="#ff6a60"/>
<rect x="448.75" y="468.1" width="0.9" height="45.9" fill="#466e5a"/>
<rect x="447.95" y="492.8" width="2.5" height="20.8" fill="#7a1f1a"/>
<rect x="448.75" y="493.6" width="0.9" height="19.2" fill="#ff6a60"/>
<rect x="451.85" y="499.6" width="0.9" height="55.0" fill="#466e5a"/>
<rect x="451.05" y="502.5" width="2.5" height="21.0" fill="#0a5a2e"/>
<rect x="451.85" y="503.3" width="0.9" height="19.4" fill="#00c870"/>
<rect x="454.45" y="486.1" width="0.9" height="25.4" fill="#466e5a"/>
<rect x="453.65" y="494.3" width="2.5" height="7.5" fill="#0a5a2e"/>
<rect x="454.45" y="495.1" width="0.9" height="5.9" fill="#00c870"/>
<rect x="457.85" y="501.8" width="0.9" height="44.1" fill="#466e5a"/>
<rect x="457.05" y="515.3" width="2.5" height="14.2" fill="#7a1f1a"/>
<rect x="457.85" y="516.1" width="0.9" height="12.6" fill="#ff6a60"/>
<rect x="461.15" y="529.5" width="0.9" height="17.2" fill="#466e5a"/>
<rect x="460.35" y="530.2" width="2.5" height="12.0" fill="#7a1f1a"/>
<rect x="461.15" y="531.0" width="0.9" height="10.4" fill="#ff6a60"/>
<rect x="463.85" y="541.4" width="0.9" height="13.2" fill="#466e5a"/>
<rect x="463.05" y="542.2" width="2.5" height="2.2" fill="#0a5a2e"/>
<rect x="463.85" y="543.0" width="0.9" height="0.6" fill="#00c870"/>
<rect x="466.85" y="547.4" width="0.9" height="15.7" fill="#466e5a"/>
<rect x="466.05" y="547.7" width="2.5" height="11.7" fill="#7a1f1a"/>
<rect x="466.85" y="548.5" width="0.9" height="10.1" fill="#ff6a60"/>
<rect x="469.35" y="555.7" width="0.9" height="3.7" fill="#466e5a"/>
<rect x="468.55" y="556.4" width="2.5" height="2.3" fill="#0a5a2e"/>
<rect x="469.35" y="557.2" width="0.9" height="0.7" fill="#00c870"/>
<rect x="472.85" y="549.2" width="0.9" height="27.4" fill="#466e5a"/>
<rect x="472.05" y="551.9" width="2.5" height="11.7" fill="#0a5a2e"/>
<rect x="472.85" y="552.7" width="0.9" height="10.1" fill="#00c870"/>
<rect x="475.35" y="547.4" width="0.9" height="6.8" fill="#466e5a"/>
<rect x="474.55" y="551.6" width="2.5" height="2.1" fill="#0a5a2e"/>
<rect x="475.35" y="552.4" width="0.9" height="0.5" fill="#00c870"/>
<rect x="478.65" y="544.1" width="0.9" height="25.8" fill="#466e5a"/>
<rect x="477.85" y="553.4" width="2.5" height="14.2" fill="#7a1f1a"/>
<rect x="478.65" y="554.2" width="0.9" height="12.6" fill="#ff6a60"/>
<rect x="481.05" y="564.6" width="0.9" height="13.5" fill="#466e5a"/>
<rect x="480.25" y="567.2" width="2.5" height="2.4" fill="#7a1f1a"/>
<rect x="481.05" y="568.0" width="0.9" height="0.8" fill="#ff6a60"/>
<rect x="484.35" y="560.1" width="0.9" height="23.0" fill="#466e5a"/>
<rect x="483.55" y="560.6" width="2.5" height="7.0" fill="#7a1f1a"/>
<rect x="484.35" y="561.4" width="0.9" height="5.4" fill="#ff6a60"/>
<rect x="487.05" y="560.9" width="0.9" height="31.4" fill="#466e5a"/>
<rect x="486.25" y="561.2" width="2.5" height="30.4" fill="#7a1f1a"/>
<rect x="487.05" y="562.0" width="0.9" height="28.8" fill="#ff6a60"/>
<rect x="490.05" y="588.6" width="0.9" height="9.0" fill="#466e5a"/>
<rect x="489.25" y="592.0" width="2.5" height="3.0" fill="#7a1f1a"/>
<rect x="490.05" y="592.8" width="0.9" height="1.4" fill="#ff6a60"/>
<rect x="493.65" y="602.1" width="0.9" height="28.4" fill="#466e5a"/>
<rect x="492.85" y="606.6" width="2.5" height="10.0" fill="#0a5a2e"/>
<rect x="493.65" y="607.4" width="0.9" height="8.4" fill="#00c870"/>
<rect x="496.05" y="590.1" width="0.9" height="36.7" fill="#466e5a"/>
<rect x="495.25" y="597.1" width="2.5" height="11.0" fill="#0a5a2e"/>
<rect x="496.05" y="597.9" width="0.9" height="9.4" fill="#00c870"/>
<rect x="499.35" y="582.2" width="0.9" height="25.1" fill="#466e5a"/>
<rect x="498.55" y="596.5" width="2.5" height="10.1" fill="#0a5a2e"/>
<rect x="499.35" y="597.3" width="0.9" height="8.5" fill="#00c870"/>
<rect x="502.05" y="584.9" width="0.9" height="17.2" fill="#466e5a"/>
<rect x="501.25" y="591.6" width="2.5" height="5.4" fill="#0a5a2e"/>
<rect x="502.05" y="592.4" width="0.9" height="3.8" fill="#00c870"/>
<rect x="505.25" y="596.1" width="0.9" height="29.9" fill="#466e5a"/>
<rect x="504.45" y="608.6" width="2.5" height="16.6" fill="#7a1f1a"/>
<rect x="505.25" y="609.4" width="0.9" height="15.0" fill="#ff6a60"/>
<rect x="507.85" y="609.8" width="0.9" height="31.8" fill="#466e5a"/>
<rect x="507.05" y="619.4" width="2.5" height="5.8" fill="#0a5a2e"/>
<rect x="507.85" y="620.2" width="0.9" height="4.2" fill="#00c870"/>
<rect x="510.95" y="583.4" width="0.9" height="41.4" fill="#466e5a"/>
<rect x="510.15" y="604.4" width="2.5" height="19.1" fill="#7a1f1a"/>
<rect x="510.95" y="605.2" width="0.9" height="17.5" fill="#ff6a60"/>
<rect x="513.65" y="614.7" width="0.9" height="24.7" fill="#466e5a"/>
<rect x="512.85" y="622.9" width="2.5" height="15.8" fill="#7a1f1a"/>
<rect x="513.65" y="623.7" width="0.9" height="14.2" fill="#ff6a60"/>
<rect x="516.95" y="617.4" width="0.9" height="23.5" fill="#466e5a"/>
<rect x="516.15" y="633.6" width="2.5" height="4.3" fill="#7a1f1a"/>
<rect x="516.95" y="634.4" width="0.9" height="2.7" fill="#ff6a60"/>
<rect x="519.45" y="630.1" width="0.9" height="8.1" fill="#466e5a"/>
<rect x="518.65" y="633.1" width="2.5" height="4.5" fill="#0a5a2e"/>
<rect x="519.45" y="633.9" width="0.9" height="2.9" fill="#00c870"/>
<rect x="522.75" y="620.8" width="0.9" height="47.8" fill="#466e5a"/>
<rect x="521.95" y="621.4" width="2.5" height="36.3" fill="#7a1f1a"/>
<rect x="522.75" y="622.2" width="0.9" height="34.7" fill="#ff6a60"/>
<rect x="526.15" y="640.9" width="0.9" height="16.5" fill="#466e5a"/>
<rect x="525.35" y="643.6" width="2.5" height="13.5" fill="#0a5a2e"/>
<rect x="526.15" y="644.4" width="0.9" height="11.9" fill="#00c870"/>
<rect x="528.75" y="589.3" width="0.9" height="47.9" fill="#466e5a"/>
<rect x="527.95" y="590.8" width="2.5" height="35.9" fill="#0a5a2e"/>
<rect x="528.75" y="591.6" width="0.9" height="34.3" fill="#00c870"/>
<rect x="532.05" y="584.9" width="0.9" height="20.6" fill="#466e5a"/>
<rect x="531.25" y="588.0" width="2.5" height="0.9" fill="#0a5a2e"/>
<rect x="534.55" y="593.0" width="0.9" height="25.4" fill="#466e5a"/>
<rect x="533.75" y="593.4" width="2.5" height="21.3" fill="#7a1f1a"/>
<rect x="534.55" y="594.2" width="0.9" height="19.7" fill="#ff6a60"/>
<rect x="538.05" y="609.5" width="0.9" height="23.9" fill="#466e5a"/>
<rect x="537.25" y="614.3" width="2.5" height="17.3" fill="#7a1f1a"/>
<rect x="538.05" y="615.1" width="0.9" height="15.7" fill="#ff6a60"/>
<rect x="539.95" y="618.4" width="0.9" height="67.4" fill="#466e5a"/>
<rect x="539.15" y="633.1" width="2.5" height="52.4" fill="#7a1f1a"/>
<rect x="539.95" y="633.9" width="0.9" height="50.8" fill="#ff6a60"/>
<rect x="543.75" y="667.1" width="0.9" height="41.2" fill="#466e5a"/>
<rect x="542.95" y="669.3" width="2.5" height="18.0" fill="#0a5a2e"/>
<rect x="543.75" y="670.1" width="0.9" height="16.4" fill="#00c870"/>
<rect x="545.95" y="649.9" width="0.9" height="14.2" fill="#466e5a"/>
<rect x="545.15" y="656.2" width="2.5" height="7.5" fill="#7a1f1a"/>
<rect x="545.95" y="657.0" width="0.9" height="5.9" fill="#ff6a60"/>
<rect x="549.45" y="654.4" width="0.9" height="25.1" fill="#466e5a"/>
<rect x="548.65" y="655.1" width="2.5" height="16.5" fill="#7a1f1a"/>
<rect x="549.45" y="655.9" width="0.9" height="14.9" fill="#ff6a60"/>
<rect x="551.95" y="659.6" width="0.9" height="12.0" fill="#466e5a"/>
<rect x="551.15" y="664.6" width="2.5" height="6.2" fill="#0a5a2e"/>
<rect x="551.95" y="665.4" width="0.9" height="4.6" fill="#00c870"/>
<rect x="555.25" y="632.7" width="0.9" height="44.1" fill="#466e5a"/>
<rect x="554.45" y="639.1" width="2.5" height="37.4" fill="#0a5a2e"/>
<rect x="555.25" y="639.9" width="0.9" height="35.8" fill="#00c870"/>
<rect x="558.65" y="638.2" width="0.9" height="17.7" fill="#466e5a"/>
<rect x="557.85" y="640.1" width="2.5" height="15.5" fill="#7a1f1a"/>
<rect x="558.65" y="640.9" width="0.9" height="13.9" fill="#ff6a60"/>
<rect x="560.95" y="623.2" width="0.9" height="27.4" fill="#466e5a"/>
<rect x="560.15" y="644.6" width="2.5" height="1.1" fill="#7a1f1a"/>
<rect x="564.35" y="641.6" width="0.9" height="21.5" fill="#466e5a"/>
<rect x="563.55" y="645.1" width="2.5" height="10.5" fill="#7a1f1a"/>
<rect x="564.35" y="645.9" width="0.9" height="8.9" fill="#ff6a60"/>
<rect x="566.95" y="621.0" width="0.9" height="26.6" fill="#466e5a"/>
<rect x="566.15" y="629.2" width="2.5" height="3.5" fill="#0a5a2e"/>
<rect x="566.95" y="630.0" width="0.9" height="1.9" fill="#00c870"/>
<rect x="570.25" y="608.3" width="0.9" height="28.9" fill="#466e5a"/>
<rect x="569.45" y="623.2" width="2.5" height="11.4" fill="#7a1f1a"/>
<rect x="570.25" y="624.0" width="0.9" height="9.8" fill="#ff6a60"/>
<rect x="572.95" y="627.4" width="0.9" height="7.5" fill="#466e5a"/>
<rect x="572.15" y="628.6" width="2.5" height="6.0" fill="#0a5a2e"/>
<rect x="572.95" y="629.4" width="0.9" height="4.4" fill="#00c870"/>
<rect x="576.15" y="614.0" width="0.9" height="18.2" fill="#466e5a"/>
<rect x="575.35" y="615.1" width="2.5" height="6.6" fill="#0a5a2e"/>
<rect x="576.15" y="615.9" width="0.9" height="5.0" fill="#00c870"/>
<rect x="578.55" y="603.5" width="0.9" height="23.9" fill="#466e5a"/>
<rect x="577.75" y="614.0" width="2.5" height="3.7" fill="#0a5a2e"/>
<rect x="578.55" y="614.8" width="0.9" height="2.1" fill="#00c870"/>
<rect x="581.85" y="608.3" width="0.9" height="26.3" fill="#466e5a"/>
<rect x="581.05" y="616.2" width="2.5" height="13.5" fill="#7a1f1a"/>
<rect x="581.85" y="617.0" width="0.9" height="11.9" fill="#ff6a60"/>
<rect x="584.55" y="620.7" width="0.9" height="10.5" fill="#466e5a"/>
<rect x="583.75" y="621.7" width="2.5" height="9.0" fill="#0a5a2e"/>
<rect x="584.55" y="622.5" width="0.9" height="7.4" fill="#00c870"/>
<rect x="587.95" y="512.2" width="0.9" height="81.6" fill="#466e5a"/>
<rect x="587.15" y="574.3" width="2.5" height="7.2" fill="#7a1f1a"/>
<rect x="587.95" y="575.1" width="0.9" height="5.6" fill="#ff6a60"/>
<rect x="590.55" y="572.8" width="0.9" height="18.0" fill="#466e5a"/>
<rect x="589.75" y="581.4" width="2.5" height="0.9" fill="#7a1f1a"/>
<rect x="593.65" y="560.1" width="0.9" height="30.4" fill="#466e5a"/>
<rect x="592.85" y="579.1" width="2.5" height="4.5" fill="#0a5a2e"/>
<rect x="593.65" y="579.9" width="0.9" height="2.9" fill="#00c870"/>
<rect x="596.95" y="578.8" width="0.9" height="25.0" fill="#466e5a"/>
<rect x="596.15" y="582.1" width="2.5" height="21.4" fill="#7a1f1a"/>
<rect x="596.95" y="582.9" width="0.9" height="19.8" fill="#ff6a60"/>
<rect x="599.55" y="574.0" width="0.9" height="34.7" fill="#466e5a"/>
<rect x="598.75" y="600.0" width="2.5" height="7.2" fill="#0a5a2e"/>
<rect x="599.55" y="600.8" width="0.9" height="5.6" fill="#00c870"/>
<rect x="602.85" y="597.5" width="0.9" height="26.9" fill="#466e5a"/>
<rect x="602.05" y="600.0" width="2.5" height="17.2" fill="#7a1f1a"/>
<rect x="602.85" y="600.8" width="0.9" height="15.6" fill="#ff6a60"/>
<rect x="605.35" y="596.9" width="0.9" height="20.8" fill="#466e5a"/>
<rect x="604.55" y="612.8" width="2.5" height="4.4" fill="#0a5a2e"/>
<rect x="605.35" y="613.6" width="0.9" height="2.8" fill="#00c870"/>
<rect x="608.55" y="604.2" width="0.9" height="25.5" fill="#466e5a"/>
<rect x="607.75" y="612.2" width="2.5" height="16.4" fill="#7a1f1a"/>
<rect x="608.55" y="613.0" width="0.9" height="14.8" fill="#ff6a60"/>
<rect x="611.05" y="610.2" width="0.9" height="7.5" fill="#466e5a"/>
<rect x="610.25" y="611.3" width="2.5" height="4.4" fill="#7a1f1a"/>
<rect x="611.05" y="612.1" width="0.9" height="2.8" fill="#ff6a60"/>
<rect x="614.55" y="605.7" width="0.9" height="27.0" fill="#466e5a"/>
<rect x="613.75" y="619.9" width="2.5" height="1.2" fill="#7a1f1a"/>
<rect x="617.05" y="620.7" width="0.9" height="12.0" fill="#466e5a"/>
<rect x="616.25" y="621.7" width="2.5" height="10.5" fill="#7a1f1a"/>
<rect x="617.05" y="622.5" width="0.9" height="8.9" fill="#ff6a60"/>
<rect x="620.05" y="612.5" width="0.9" height="35.6" fill="#466e5a"/>
<rect x="619.25" y="629.7" width="2.5" height="0.9" fill="#7a1f1a"/>
<rect x="623.05" y="617.2" width="0.9" height="14.7" fill="#466e5a"/>
<rect x="622.25" y="628.2" width="2.5" height="1.5" fill="#0a5a2e"/>
<rect x="626.05" y="617.7" width="0.9" height="28.0" fill="#466e5a"/>
<rect x="625.25" y="618.4" width="2.5" height="25.2" fill="#0a5a2e"/>
<rect x="626.05" y="619.2" width="0.9" height="23.6" fill="#00c870"/>
<rect x="629.45" y="606.8" width="0.9" height="12.4" fill="#466e5a"/>
<rect x="628.65" y="615.1" width="2.5" height="3.3" fill="#0a5a2e"/>
<rect x="629.45" y="615.9" width="0.9" height="1.7" fill="#00c870"/>
<rect x="632.05" y="613.2" width="0.9" height="35.2" fill="#466e5a"/>
<rect x="631.25" y="614.3" width="2.5" height="33.3" fill="#7a1f1a"/>
<rect x="632.05" y="615.1" width="0.9" height="31.7" fill="#ff6a60"/>
<rect x="635.35" y="630.1" width="0.9" height="23.5" fill="#466e5a"/>
<rect x="634.55" y="639.4" width="2.5" height="8.2" fill="#0a5a2e"/>
<rect x="635.35" y="640.2" width="0.9" height="6.6" fill="#00c870"/>
<rect x="638.05" y="630.1" width="0.9" height="10.8" fill="#466e5a"/>
<rect x="637.25" y="637.2" width="2.5" height="2.9" fill="#0a5a2e"/>
<rect x="638.05" y="638.0" width="0.9" height="1.3" fill="#00c870"/>
<rect x="641.05" y="622.2" width="0.9" height="24.4" fill="#466e5a"/>
<rect x="640.25" y="630.1" width="2.5" height="8.6" fill="#7a1f1a"/>
<rect x="641.05" y="630.9" width="0.9" height="7.0" fill="#ff6a60"/>
<rect x="644.05" y="614.0" width="0.9" height="25.1" fill="#466e5a"/>
<rect x="643.25" y="614.3" width="2.5" height="24.4" fill="#0a5a2e"/>
<rect x="644.05" y="615.1" width="0.9" height="22.8" fill="#00c870"/>
<rect x="647.05" y="581.0" width="0.9" height="32.2" fill="#466e5a"/>
<rect x="646.25" y="604.2" width="2.5" height="8.6" fill="#0a5a2e"/>
<rect x="647.05" y="605.0" width="0.9" height="7.0" fill="#00c870"/>
<rect x="649.55" y="599.3" width="0.9" height="30.4" fill="#466e5a"/>
<rect x="648.75" y="603.2" width="2.5" height="10.0" fill="#7a1f1a"/>
<rect x="649.55" y="604.0" width="0.9" height="8.4" fill="#ff6a60"/>
<rect x="652.65" y="612.5" width="0.9" height="9.2" fill="#466e5a"/>
<rect x="651.85" y="613.2" width="2.5" height="7.9" fill="#7a1f1a"/>
<rect x="652.65" y="614.0" width="0.9" height="6.3" fill="#ff6a60"/>
<rect x="655.25" y="600.8" width="0.9" height="24.8" fill="#466e5a"/>
<rect x="654.45" y="616.2" width="2.5" height="4.5" fill="#0a5a2e"/>
<rect x="655.25" y="617.0" width="0.9" height="2.9" fill="#00c870"/>
<rect x="658.65" y="611.7" width="0.9" height="6.7" fill="#466e5a"/>
<rect x="657.85" y="615.2" width="2.5" height="1.0" fill="#0a5a2e"/>
<rect x="661.95" y="616.6" width="0.9" height="25.0" fill="#466e5a"/>
<rect x="661.15" y="617.7" width="2.5" height="13.9" fill="#7a1f1a"/>
<rect x="661.95" y="618.5" width="0.9" height="12.3" fill="#ff6a60"/>
<rect x="664.65" y="590.8" width="0.9" height="46.8" fill="#466e5a"/>
<rect x="663.85" y="593.9" width="2.5" height="37.7" fill="#0a5a2e"/>
<rect x="664.65" y="594.7" width="0.9" height="36.1" fill="#00c870"/>
<rect x="667.95" y="581.5" width="0.9" height="38.4" fill="#466e5a"/>
<rect x="667.15" y="582.1" width="2.5" height="25.6" fill="#7a1f1a"/>
<rect x="667.95" y="582.9" width="0.9" height="24.0" fill="#ff6a60"/>
<rect x="670.35" y="591.0" width="0.9" height="20.0" fill="#466e5a"/>
<rect x="669.55" y="605.7" width="2.5" height="2.0" fill="#0a5a2e"/>
<rect x="673.85" y="585.1" width="0.9" height="16.9" fill="#466e5a"/>
<rect x="673.05" y="595.0" width="2.5" height="1.6" fill="#7a1f1a"/>
<rect x="676.25" y="596.0" width="0.9" height="3.0" fill="#466e5a"/>
<rect x="675.45" y="597.2" width="2.5" height="0.9" fill="#7a1f1a"/>
<rect x="679.55" y="581.8" width="0.9" height="27.3" fill="#466e5a"/>
<rect x="678.75" y="597.0" width="2.5" height="11.7" fill="#7a1f1a"/>
<rect x="679.55" y="597.8" width="0.9" height="10.1" fill="#ff6a60"/>
<rect x="682.25" y="601.3" width="0.9" height="22.4" fill="#466e5a"/>
<rect x="681.45" y="604.2" width="2.5" height="4.5" fill="#0a5a2e"/>
<rect x="682.25" y="605.0" width="0.9" height="2.9" fill="#00c870"/>
<rect x="685.25" y="570.1" width="0.9" height="26.9" fill="#466e5a"/>
<rect x="684.45" y="575.8" width="2.5" height="20.8" fill="#0a5a2e"/>
<rect x="685.25" y="576.6" width="0.9" height="19.2" fill="#00c870"/>
<rect x="687.85" y="560.8" width="0.9" height="17.3" fill="#466e5a"/>
<rect x="687.05" y="573.8" width="2.5" height="0.9" fill="#0a5a2e"/>
<rect x="691.25" y="561.6" width="0.9" height="37.4" fill="#466e5a"/>
<rect x="690.45" y="562.0" width="2.5" height="34.4" fill="#7a1f1a"/>
<rect x="691.25" y="562.8" width="0.9" height="32.8" fill="#ff6a60"/>
<rect x="694.55" y="596.8" width="0.9" height="16.9" fill="#466e5a"/>
<rect x="693.75" y="597.3" width="2.5" height="8.0" fill="#7a1f1a"/>
<rect x="694.55" y="598.1" width="0.9" height="6.4" fill="#ff6a60"/>
<rect x="697.15" y="612.5" width="0.9" height="19.4" fill="#466e5a"/>
<rect x="696.35" y="617.7" width="2.5" height="5.5" fill="#0a5a2e"/>
<rect x="697.15" y="618.5" width="0.9" height="3.9" fill="#00c870"/>
<rect x="700.15" y="598.5" width="0.9" height="15.2" fill="#466e5a"/>
<rect x="699.35" y="612.4" width="2.5" height="0.9" fill="#0a5a2e"/>
<rect x="702.85" y="603.3" width="0.9" height="9.2" fill="#466e5a"/>
<rect x="702.05" y="607.7" width="2.5" height="4.5" fill="#0a5a2e"/>
<rect x="702.85" y="608.5" width="0.9" height="2.9" fill="#00c870"/>
<rect x="706.15" y="606.8" width="0.9" height="28.1" fill="#466e5a"/>
<rect x="705.35" y="607.7" width="2.5" height="26.9" fill="#0a5a2e"/>
<rect x="706.15" y="608.5" width="0.9" height="25.3" fill="#00c870"/>
<rect x="708.85" y="590.9" width="0.9" height="15.6" fill="#466e5a"/>
<rect x="708.05" y="592.1" width="2.5" height="13.6" fill="#0a5a2e"/>
<rect x="708.85" y="592.9" width="0.9" height="12.0" fill="#00c870"/>
<rect x="712.05" y="591.6" width="0.9" height="17.6" fill="#466e5a"/>
<rect x="711.25" y="593.2" width="2.5" height="15.5" fill="#7a1f1a"/>
<rect x="712.05" y="594.0" width="0.9" height="13.9" fill="#ff6a60"/>
<rect x="714.55" y="601.2" width="0.9" height="16.0" fill="#466e5a"/>
<rect x="713.75" y="607.2" width="2.5" height="4.5" fill="#7a1f1a"/>
<rect x="714.55" y="608.0" width="0.9" height="2.9" fill="#ff6a60"/>
<rect x="718.15" y="604.2" width="0.9" height="10.5" fill="#466e5a"/>
<rect x="717.35" y="609.2" width="2.5" height="1.5" fill="#7a1f1a"/>
<rect x="720.35" y="599.2" width="0.9" height="45.4" fill="#466e5a"/>
<rect x="719.55" y="613.2" width="2.5" height="30.4" fill="#7a1f1a"/>
<rect x="720.35" y="614.0" width="0.9" height="28.8" fill="#ff6a60"/>
<rect x="723.65" y="635.7" width="0.9" height="10.9" fill="#466e5a"/>
<rect x="722.85" y="641.2" width="2.5" height="3.4" fill="#7a1f1a"/>
<rect x="723.65" y="642.0" width="0.9" height="1.8" fill="#ff6a60"/>
<rect x="726.75" y="623.2" width="0.9" height="19.9" fill="#466e5a"/>
<rect x="725.95" y="633.4" width="2.5" height="6.7" fill="#7a1f1a"/>
<rect x="726.75" y="634.2" width="0.9" height="5.1" fill="#ff6a60"/>
<rect x="729.65" y="625.9" width="0.9" height="24.7" fill="#466e5a"/>
<rect x="728.85" y="626.2" width="2.5" height="12.5" fill="#0a5a2e"/>
<rect x="729.65" y="627.0" width="0.9" height="10.9" fill="#00c870"/>
<rect x="732.85" y="591.8" width="0.9" height="26.3" fill="#466e5a"/>
<rect x="732.05" y="597.7" width="2.5" height="20.0" fill="#0a5a2e"/>
<rect x="732.85" y="598.5" width="0.9" height="18.4" fill="#00c870"/>
<rect x="735.55" y="572.5" width="0.9" height="23.5" fill="#466e5a"/>
<rect x="734.75" y="578.1" width="2.5" height="17.5" fill="#0a5a2e"/>
<rect x="735.55" y="578.9" width="0.9" height="15.9" fill="#00c870"/>
<rect x="738.75" y="550.1" width="0.9" height="27.2" fill="#466e5a"/>
<rect x="737.95" y="561.1" width="2.5" height="10.5" fill="#0a5a2e"/>
<rect x="738.75" y="561.9" width="0.9" height="8.9" fill="#00c870"/>
<rect x="741.15" y="560.0" width="0.9" height="15.1" fill="#466e5a"/>
<rect x="740.35" y="560.8" width="2.5" height="7.2" fill="#7a1f1a"/>
<rect x="741.15" y="561.6" width="0.9" height="5.6" fill="#ff6a60"/>
<rect x="744.45" y="554.9" width="0.9" height="18.7" fill="#466e5a"/>
<rect x="743.65" y="564.6" width="2.5" height="3.0" fill="#0a5a2e"/>
<rect x="744.45" y="565.4" width="0.9" height="1.4" fill="#00c870"/>
<rect x="747.15" y="550.1" width="0.9" height="25.7" fill="#466e5a"/>
<rect x="746.35" y="563.5" width="2.5" height="9.0" fill="#7a1f1a"/>
<rect x="747.15" y="564.3" width="0.9" height="7.4" fill="#ff6a60"/>
<rect x="750.15" y="550.4" width="0.9" height="20.6" fill="#466e5a"/>
<rect x="749.35" y="553.4" width="2.5" height="17.2" fill="#0a5a2e"/>
<rect x="750.15" y="554.2" width="0.9" height="15.6" fill="#00c870"/>
<rect x="752.95" y="536.6" width="0.9" height="23.0" fill="#466e5a"/>
<rect x="752.15" y="542.9" width="2.5" height="11.2" fill="#0a5a2e"/>
<rect x="752.95" y="543.7" width="0.9" height="9.6" fill="#00c870"/>
<rect x="756.15" y="495.7" width="0.9" height="37.0" fill="#466e5a"/>
<rect x="755.35" y="513.7" width="2.5" height="13.9" fill="#0a5a2e"/>
<rect x="756.15" y="514.5" width="0.9" height="12.3" fill="#00c870"/>
<rect x="759.45" y="507.0" width="0.9" height="26.9" fill="#466e5a"/>
<rect x="758.65" y="507.7" width="2.5" height="16.0" fill="#7a1f1a"/>
<rect x="759.45" y="508.5" width="0.9" height="14.4" fill="#ff6a60"/>
<rect x="761.95" y="511.0" width="0.9" height="26.6" fill="#466e5a"/>
<rect x="761.15" y="532.7" width="2.5" height="3.4" fill="#0a5a2e"/>
<rect x="761.95" y="533.5" width="0.9" height="1.8" fill="#00c870"/>
<rect x="765.35" y="527.9" width="0.9" height="6.0" fill="#466e5a"/>
<rect x="764.55" y="528.2" width="2.5" height="3.9" fill="#0a5a2e"/>
<rect x="765.35" y="529.0" width="0.9" height="2.3" fill="#00c870"/>
<rect x="767.95" y="516.7" width="0.9" height="16.4" fill="#466e5a"/>
<rect x="767.15" y="522.2" width="2.5" height="10.5" fill="#7a1f1a"/>
<rect x="767.95" y="523.0" width="0.9" height="8.9" fill="#ff6a60"/>
<rect x="771.05" y="520.7" width="0.9" height="12.0" fill="#466e5a"/>
<rect x="770.25" y="527.9" width="2.5" height="0.9" fill="#0a5a2e"/>
<rect x="774.05" y="520.4" width="0.9" height="5.3" fill="#466e5a"/>
<rect x="773.25" y="523.4" width="2.5" height="1.2" fill="#7a1f1a"/>
<rect x="777.05" y="490.2" width="0.9" height="23.9" fill="#466e5a"/>
<rect x="776.25" y="503.2" width="2.5" height="10.5" fill="#0a5a2e"/>
<rect x="777.05" y="504.0" width="0.9" height="8.9" fill="#00c870"/>
<rect x="779.65" y="499.5" width="0.9" height="13.4" fill="#466e5a"/>
<rect x="778.85" y="500.2" width="2.5" height="8.2" fill="#7a1f1a"/>
<rect x="779.65" y="501.0" width="0.9" height="6.6" fill="#ff6a60"/>
<rect x="782.95" y="504.0" width="0.9" height="32.9" fill="#466e5a"/>
<rect x="782.15" y="504.3" width="2.5" height="22.1" fill="#7a1f1a"/>
<rect x="782.95" y="505.1" width="0.9" height="20.5" fill="#ff6a60"/>
<rect x="785.25" y="521.2" width="0.9" height="9.7" fill="#466e5a"/>
<rect x="784.45" y="526.4" width="2.5" height="1.5" fill="#7a1f1a"/>
<rect x="788.55" y="519.7" width="0.9" height="23.2" fill="#466e5a"/>
<rect x="787.75" y="520.1" width="2.5" height="22.5" fill="#7a1f1a"/>
<rect x="788.55" y="520.9" width="0.9" height="20.9" fill="#ff6a60"/>
<rect x="792.05" y="533.9" width="0.9" height="22.1" fill="#466e5a"/>
<rect x="791.25" y="535.4" width="2.5" height="20.2" fill="#7a1f1a"/>
<rect x="792.05" y="536.2" width="0.9" height="18.6" fill="#ff6a60"/>
<rect x="794.55" y="554.9" width="0.9" height="11.6" fill="#466e5a"/>
<rect x="793.75" y="555.6" width="2.5" height="2.2" fill="#7a1f1a"/>
<rect x="794.55" y="556.4" width="0.9" height="0.6" fill="#ff6a60"/>
<rect x="798.05" y="552.2" width="0.9" height="21.4" fill="#466e5a"/>
<rect x="797.25" y="569.5" width="2.5" height="3.3" fill="#7a1f1a"/>
<rect x="798.05" y="570.3" width="0.9" height="1.7" fill="#ff6a60"/>
<rect x="800.25" y="572.0" width="0.9" height="14.0" fill="#466e5a"/>
<rect x="799.45" y="572.8" width="2.5" height="1.2" fill="#7a1f1a"/>
<rect x="803.85" y="581.8" width="0.9" height="47.4" fill="#466e5a"/>
<rect x="803.05" y="582.5" width="2.5" height="43.1" fill="#7a1f1a"/>
<rect x="803.85" y="583.3" width="0.9" height="41.5" fill="#ff6a60"/>
<rect x="806.35" y="625.2" width="0.9" height="22.9" fill="#466e5a"/>
<rect x="805.55" y="625.9" width="2.5" height="18.7" fill="#7a1f1a"/>
<rect x="806.35" y="626.7" width="0.9" height="17.1" fill="#ff6a60"/>
<rect x="809.65" y="637.6" width="0.9" height="8.5" fill="#466e5a"/>
<rect x="808.85" y="638.2" width="2.5" height="7.2" fill="#7a1f1a"/>
<rect x="809.65" y="639.0" width="0.9" height="5.6" fill="#ff6a60"/>
<rect x="812.15" y="634.2" width="0.9" height="19.9" fill="#466e5a"/>
<rect x="811.35" y="647.6" width="2.5" height="0.9" fill="#7a1f1a"/>
<rect x="815.35" y="645.7" width="0.9" height="7.9" fill="#466e5a"/>
<rect x="814.55" y="646.6" width="2.5" height="3.0" fill="#0a5a2e"/>
<rect x="815.35" y="647.4" width="0.9" height="1.4" fill="#00c870"/>
<rect x="818.05" y="560.8" width="0.9" height="77.4" fill="#466e5a"/>
<rect x="817.25" y="566.8" width="2.5" height="56.9" fill="#7a1f1a"/>
<rect x="818.05" y="567.6" width="0.9" height="55.3" fill="#ff6a60"/>
<rect x="821.15" y="601.2" width="0.9" height="28.5" fill="#466e5a"/>
<rect x="820.35" y="617.7" width="2.5" height="9.7" fill="#0a5a2e"/>
<rect x="821.15" y="618.5" width="0.9" height="8.1" fill="#00c870"/>
<rect x="824.35" y="628.2" width="0.9" height="76.3" fill="#466e5a"/>
<rect x="823.55" y="628.6" width="2.5" height="75.4" fill="#7a1f1a"/>
<rect x="824.35" y="629.4" width="0.9" height="73.8" fill="#ff6a60"/>
<rect x="827.05" y="695.0" width="0.9" height="24.9" fill="#466e5a"/>
<rect x="826.25" y="702.8" width="2.5" height="0.9" fill="#0a5a2e"/>
<rect x="830.25" y="677.5" width="0.9" height="33.8" fill="#466e5a"/>
<rect x="829.45" y="677.9" width="2.5" height="32.8" fill="#7a1f1a"/>
<rect x="830.25" y="678.7" width="0.9" height="31.2" fill="#ff6a60"/>
<rect x="832.85" y="699.2" width="0.9" height="19.5" fill="#466e5a"/>
<rect x="832.05" y="710.0" width="2.5" height="2.4" fill="#7a1f1a"/>
<rect x="832.85" y="710.8" width="0.9" height="0.8" fill="#ff6a60"/>
<rect x="836.15" y="691.0" width="0.9" height="24.7" fill="#466e5a"/>
<rect x="835.35" y="702.5" width="2.5" height="1.0" fill="#7a1f1a"/>
<rect x="838.85" y="696.4" width="0.9" height="11.7" fill="#466e5a"/>
<rect x="838.05" y="698.6" width="2.5" height="4.8" fill="#0a5a2e"/>
<rect x="838.85" y="699.4" width="0.9" height="3.2" fill="#00c870"/>
<rect x="842.15" y="690.0" width="0.9" height="18.0" fill="#466e5a"/>
<rect x="841.35" y="698.8" width="2.5" height="2.8" fill="#0a5a2e"/>
<rect x="842.15" y="699.6" width="0.9" height="1.2" fill="#00c870"/>
<rect x="844.55" y="695.5" width="0.9" height="18.0" fill="#466e5a"/>
<rect x="843.75" y="696.1" width="2.5" height="16.9" fill="#7a1f1a"/>
<rect x="844.55" y="696.9" width="0.9" height="15.3" fill="#ff6a60"/>
<rect x="847.85" y="676.2" width="0.9" height="33.8" fill="#466e5a"/>
<rect x="847.05" y="683.4" width="2.5" height="26.2" fill="#0a5a2e"/>
<rect x="847.85" y="684.2" width="0.9" height="24.6" fill="#00c870"/>
<rect x="850.05" y="680.0" width="0.9" height="8.0" fill="#466e5a"/>
<rect x="849.25" y="683.4" width="2.5" height="4.0" fill="#0a5a2e"/>
<rect x="850.05" y="684.2" width="0.9" height="2.4" fill="#00c870"/>
<rect x="853.85" y="676.1" width="0.9" height="24.7" fill="#466e5a"/>
<rect x="853.05" y="688.3" width="2.5" height="6.3" fill="#7a1f1a"/>
<rect x="853.85" y="689.1" width="0.9" height="4.7" fill="#ff6a60"/>
<rect x="857.05" y="688.8" width="0.9" height="7.1" fill="#466e5a"/>
<rect x="856.25" y="692.1" width="2.5" height="3.0" fill="#0a5a2e"/>
<rect x="857.05" y="692.9" width="0.9" height="1.4" fill="#00c870"/>
<rect x="859.55" y="680.5" width="0.9" height="23.2" fill="#466e5a"/>
<rect x="858.75" y="681.2" width="2.5" height="17.5" fill="#7a1f1a"/>
<rect x="859.55" y="682.0" width="0.9" height="15.9" fill="#ff6a60"/>
<rect x="862.75" y="688.5" width="0.9" height="11.5" fill="#466e5a"/>
<rect x="861.95" y="688.9" width="2.5" height="9.9" fill="#0a5a2e"/>
<rect x="862.75" y="689.7" width="0.9" height="8.3" fill="#00c870"/>
<rect x="865.35" y="688.0" width="0.9" height="10.5" fill="#466e5a"/>
<rect x="864.55" y="688.5" width="2.5" height="9.6" fill="#0a5a2e"/>
<rect x="865.35" y="689.3" width="0.9" height="8.0" fill="#00c870"/>
<rect x="868.75" y="688.1" width="0.9" height="15.1" fill="#466e5a"/>
<rect x="867.95" y="692.1" width="2.5" height="3.4" fill="#7a1f1a"/>
<rect x="868.75" y="692.9" width="0.9" height="1.8" fill="#ff6a60"/>
<rect x="871.05" y="693.5" width="0.9" height="11.5" fill="#466e5a"/>
<rect x="870.25" y="694.2" width="2.5" height="10.3" fill="#7a1f1a"/>
<rect x="871.05" y="695.0" width="0.9" height="8.7" fill="#ff6a60"/>
<rect x="874.55" y="686.7" width="0.9" height="18.3" fill="#466e5a"/>
<rect x="873.75" y="697.7" width="2.5" height="0.9" fill="#7a1f1a"/>
<rect x="877.05" y="694.0" width="0.9" height="11.6" fill="#466e5a"/>
<rect x="876.25" y="698.1" width="2.5" height="3.4" fill="#7a1f1a"/>
<rect x="877.05" y="698.9" width="0.9" height="1.8" fill="#ff6a60"/>
<rect x="880.35" y="690.6" width="0.9" height="7.2" fill="#466e5a"/>
<rect x="879.55" y="696.3" width="2.5" height="0.9" fill="#0a5a2e"/>
<rect x="882.95" y="692.5" width="0.9" height="26.6" fill="#466e5a"/>
<rect x="882.15" y="696.3" width="2.5" height="18.3" fill="#7a1f1a"/>
<rect x="882.95" y="697.1" width="0.9" height="16.7" fill="#ff6a60"/>
<rect x="886.15" y="713.0" width="0.9" height="5.0" fill="#466e5a"/>
<rect x="885.35" y="716.2" width="2.5" height="0.9" fill="#7a1f1a"/>
<rect x="889.35" y="710.8" width="0.9" height="26.2" fill="#466e5a"/>
<rect x="888.55" y="711.3" width="2.5" height="25.3" fill="#7a1f1a"/>
<rect x="889.35" y="712.1" width="0.9" height="23.7" fill="#ff6a60"/>
<rect x="892.05" y="728.1" width="0.9" height="24.7" fill="#466e5a"/>
<rect x="891.25" y="736.3" width="2.5" height="12.8" fill="#7a1f1a"/>
<rect x="892.05" y="737.1" width="0.9" height="11.2" fill="#ff6a60"/>
<rect x="895.35" y="707.8" width="0.9" height="38.3" fill="#466e5a"/>
<rect x="894.55" y="708.3" width="2.5" height="11.6" fill="#0a5a2e"/>
<rect x="895.35" y="709.1" width="0.9" height="10.0" fill="#00c870"/>
<rect x="898.15" y="701.1" width="0.9" height="8.9" fill="#466e5a"/>
<rect x="897.35" y="703.7" width="2.5" height="5.8" fill="#0a5a2e"/>
<rect x="898.15" y="704.5" width="0.9" height="4.2" fill="#00c870"/>
<rect x="901.25" y="683.2" width="0.9" height="21.8" fill="#466e5a"/>
<rect x="900.45" y="693.5" width="2.5" height="11.0" fill="#0a5a2e"/>
<rect x="901.25" y="694.3" width="0.9" height="9.4" fill="#00c870"/>
<rect x="903.95" y="676.0" width="0.9" height="18.0" fill="#466e5a"/>
<rect x="903.15" y="676.4" width="2.5" height="17.2" fill="#0a5a2e"/>
<rect x="903.95" y="677.2" width="0.9" height="15.6" fill="#00c870"/>
<rect x="907.15" y="682.3" width="0.9" height="13.0" fill="#466e5a"/>
<rect x="906.35" y="682.8" width="2.5" height="11.0" fill="#7a1f1a"/>
<rect x="907.15" y="683.6" width="0.9" height="9.4" fill="#ff6a60"/>
<rect x="909.75" y="691.7" width="0.9" height="12.1" fill="#466e5a"/>
<rect x="908.95" y="694.0" width="2.5" height="9.2" fill="#7a1f1a"/>
<rect x="909.75" y="694.8" width="0.9" height="7.6" fill="#ff6a60"/>
<rect x="912.85" y="694.7" width="0.9" height="8.8" fill="#466e5a"/>
<rect x="912.05" y="699.7" width="2.5" height="0.9" fill="#0a5a2e"/>
<rect x="915.55" y="690.0" width="0.9" height="10.0" fill="#466e5a"/>
<rect x="914.75" y="690.3" width="2.5" height="9.2" fill="#0a5a2e"/>
<rect x="915.55" y="691.1" width="0.9" height="7.6" fill="#00c870"/>
<rect x="918.85" y="683.6" width="0.9" height="15.6" fill="#466e5a"/>
<rect x="918.05" y="690.3" width="2.5" height="8.4" fill="#0a5a2e"/>
<rect x="918.85" y="691.1" width="0.9" height="6.8" fill="#00c870"/>
<rect x="921.95" y="689.5" width="0.9" height="5.5" fill="#466e5a"/>
<rect x="921.15" y="692.0" width="2.5" height="0.9" fill="#7a1f1a"/>
<rect x="924.55" y="686.7" width="0.9" height="12.9" fill="#466e5a"/>
<rect x="923.75" y="687.9" width="2.5" height="8.7" fill="#7a1f1a"/>
<rect x="924.55" y="688.7" width="0.9" height="7.1" fill="#ff6a60"/>
<rect x="927.95" y="692.7" width="0.9" height="5.3" fill="#466e5a"/>
<rect x="927.15" y="693.1" width="2.5" height="4.4" fill="#0a5a2e"/>
<rect x="927.95" y="693.9" width="0.9" height="2.8" fill="#00c870"/>
<rect x="930.55" y="677.6" width="0.9" height="13.4" fill="#466e5a"/>
<rect x="929.75" y="682.1" width="2.5" height="8.4" fill="#0a5a2e"/>
<rect x="930.55" y="682.9" width="0.9" height="6.8" fill="#00c870"/>
<rect x="933.85" y="678.3" width="0.9" height="12.2" fill="#466e5a"/>
<rect x="933.05" y="681.1" width="2.5" height="8.5" fill="#7a1f1a"/>
<rect x="933.85" y="681.9" width="0.9" height="6.9" fill="#ff6a60"/>
<rect x="936.25" y="684.8" width="0.9" height="4.7" fill="#466e5a"/>
<rect x="935.45" y="685.2" width="2.5" height="3.6" fill="#0a5a2e"/>
<rect x="936.25" y="686.0" width="0.9" height="2.0" fill="#00c870"/>
<rect x="939.65" y="678.3" width="0.9" height="24.2" fill="#466e5a"/>
<rect x="938.85" y="683.4" width="2.5" height="13.8" fill="#7a1f1a"/>
<rect x="939.65" y="684.2" width="0.9" height="12.2" fill="#ff6a60"/>
<rect x="942.05" y="693.5" width="0.9" height="4.5" fill="#466e5a"/>
<rect x="941.25" y="694.1" width="2.5" height="3.4" fill="#0a5a2e"/>
<rect x="942.05" y="694.9" width="0.9" height="1.8" fill="#00c870"/>
<rect x="945.45" y="687.0" width="0.9" height="16.5" fill="#466e5a"/>
<rect x="944.65" y="696.6" width="2.5" height="6.4" fill="#0a5a2e"/>
<rect x="945.45" y="697.4" width="0.9" height="4.8" fill="#00c870"/>
<rect x="948.15" y="692.3" width="0.9" height="10.7" fill="#466e5a"/>
<rect x="947.35" y="697.1" width="2.5" height="0.9" fill="#0a5a2e"/>
<rect x="951.15" y="692.5" width="0.9" height="7.3" fill="#466e5a"/>
<rect x="950.35" y="697.6" width="2.5" height="0.9" fill="#7a1f1a"/>
<rect x="954.75" y="700.2" width="0.9" height="7.2" fill="#466e5a"/>
<rect x="953.95" y="704.1" width="2.5" height="2.5" fill="#7a1f1a"/>
<rect x="954.75" y="704.9" width="0.9" height="0.9" fill="#ff6a60"/>
<rect x="957.05" y="694.0" width="0.9" height="15.0" fill="#466e5a"/>
<rect x="956.25" y="697.6" width="2.5" height="8.4" fill="#0a5a2e"/>
<rect x="957.05" y="698.4" width="0.9" height="6.8" fill="#00c870"/>
<rect x="960.35" y="700.7" width="0.9" height="37.1" fill="#466e5a"/>
<rect x="959.55" y="704.1" width="2.5" height="16.5" fill="#7a1f1a"/>
<rect x="960.35" y="704.9" width="0.9" height="14.9" fill="#ff6a60"/>
<rect x="963.05" y="716.1" width="0.9" height="12.8" fill="#466e5a"/>
<rect x="962.25" y="720.2" width="2.5" height="0.9" fill="#7a1f1a"/>
<rect x="966.25" y="699.2" width="0.9" height="35.7" fill="#466e5a"/>
<rect x="965.45" y="714.2" width="2.5" height="9.9" fill="#7a1f1a"/>
<rect x="966.25" y="715.0" width="0.9" height="8.3" fill="#ff6a60"/>
<rect x="969.15" y="719.9" width="0.9" height="22.1" fill="#466e5a"/>
<rect x="968.35" y="730.1" width="2.5" height="11.5" fill="#7a1f1a"/>
<rect x="969.15" y="730.9" width="0.9" height="9.9" fill="#ff6a60"/>
<rect x="972.05" y="737.0" width="0.9" height="5.0" fill="#466e5a"/>
<rect x="971.25" y="737.8" width="2.5" height="3.8" fill="#0a5a2e"/>
<rect x="972.05" y="738.6" width="0.9" height="2.2" fill="#00c870"/>
<rect x="974.65" y="719.1" width="0.9" height="14.3" fill="#466e5a"/>
<rect x="973.85" y="728.8" width="2.5" height="0.9" fill="#7a1f1a"/>
<rect x="977.65" y="726.6" width="0.9" height="17.2" fill="#466e5a"/>
<rect x="976.85" y="727.4" width="2.5" height="14.2" fill="#7a1f1a"/>
<rect x="977.65" y="728.2" width="0.9" height="12.6" fill="#ff6a60"/>
<rect x="980.35" y="722.1" width="0.9" height="26.3" fill="#466e5a"/>
<rect x="979.55" y="725.1" width="2.5" height="22.9" fill="#0a5a2e"/>
<rect x="980.35" y="725.9" width="0.9" height="21.3" fill="#00c870"/>
<rect x="983.75" y="701.2" width="0.9" height="23.6" fill="#466e5a"/>
<rect x="982.95" y="701.8" width="2.5" height="22.6" fill="#0a5a2e"/>
<rect x="983.75" y="702.6" width="0.9" height="21.0" fill="#00c870"/>
<rect x="987.05" y="692.0" width="0.9" height="16.6" fill="#466e5a"/>
<rect x="986.25" y="692.6" width="2.5" height="10.7" fill="#0a5a2e"/>
<rect x="987.05" y="693.4" width="0.9" height="9.1" fill="#00c870"/>
<rect x="989.65" y="687.5" width="0.9" height="7.2" fill="#466e5a"/>
<rect x="988.85" y="692.1" width="2.5" height="1.6" fill="#0a5a2e"/>
<rect x="992.95" y="691.7" width="0.9" height="12.0" fill="#466e5a"/>
<rect x="992.15" y="697.7" width="2.5" height="3.9" fill="#7a1f1a"/>
<rect x="992.95" y="698.5" width="0.9" height="2.3" fill="#ff6a60"/>
<rect x="995.45" y="702.8" width="0.9" height="8.1" fill="#466e5a"/>
<rect x="994.65" y="703.4" width="2.5" height="5.6" fill="#7a1f1a"/>
<rect x="995.45" y="704.2" width="0.9" height="4.0" fill="#ff6a60"/>
<rect x="998.75" y="686.8" width="0.9" height="17.2" fill="#466e5a"/>
<rect x="997.95" y="687.2" width="2.5" height="13.0" fill="#0a5a2e"/>
<rect x="998.75" y="688.0" width="0.9" height="11.4" fill="#00c870"/>
<rect x="1001.15" y="672.5" width="0.9" height="15.5" fill="#466e5a"/>
<rect x="1000.35" y="682.5" width="2.5" height="4.6" fill="#0a5a2e"/>
<rect x="1001.15" y="683.3" width="0.9" height="3.0" fill="#00c870"/>
<rect x="1004.75" y="666.7" width="0.9" height="16.8" fill="#466e5a"/>
<rect x="1003.95" y="675.0" width="2.5" height="7.5" fill="#0a5a2e"/>
<rect x="1004.75" y="675.8" width="0.9" height="5.9" fill="#00c870"/>
<rect x="1007.35" y="660.9" width="0.9" height="14.1" fill="#466e5a"/>
<rect x="1006.55" y="662.6" width="2.5" height="11.8" fill="#0a5a2e"/>
<rect x="1007.35" y="663.4" width="0.9" height="10.2" fill="#00c870"/>
<rect x="1010.35" y="655.0" width="0.9" height="28.7" fill="#466e5a"/>
<rect x="1009.55" y="668.2" width="2.5" height="12.0" fill="#7a1f1a"/>
<rect x="1010.35" y="669.0" width="0.9" height="10.4" fill="#ff6a60"/>
<rect x="1013.15" y="668.2" width="0.9" height="31.5" fill="#466e5a"/>
<rect x="1012.35" y="679.5" width="2.5" height="16.7" fill="#7a1f1a"/>
<rect x="1013.15" y="680.3" width="0.9" height="15.1" fill="#ff6a60"/>
<rect x="1016.15" y="687.0" width="0.9" height="9.0" fill="#466e5a"/>
<rect x="1015.35" y="687.7" width="2.5" height="7.5" fill="#7a1f1a"/>
<rect x="1016.15" y="688.5" width="0.9" height="5.9" fill="#ff6a60"/>
<rect x="1019.65" y="689.2" width="0.9" height="16.5" fill="#466e5a"/>
<rect x="1018.85" y="690.2" width="2.5" height="9.0" fill="#7a1f1a"/>
<rect x="1019.65" y="691.0" width="0.9" height="7.4" fill="#ff6a60"/>
<rect x="1022.15" y="693.7" width="0.9" height="12.0" fill="#466e5a"/>
<rect x="1021.35" y="698.2" width="2.5" height="6.4" fill="#7a1f1a"/>
<rect x="1022.15" y="699.0" width="0.9" height="4.8" fill="#ff6a60"/>
<rect x="1025.55" y="701.2" width="0.9" height="21.7" fill="#466e5a"/>
<rect x="1024.75" y="710.6" width="2.5" height="11.5" fill="#7a1f1a"/>
<rect x="1025.55" y="711.4" width="0.9" height="9.9" fill="#ff6a60"/>
<rect x="1028.15" y="720.0" width="0.9" height="17.1" fill="#466e5a"/>
<rect x="1027.35" y="721.1" width="2.5" height="15.2" fill="#7a1f1a"/>
<rect x="1028.15" y="721.9" width="0.9" height="13.6" fill="#ff6a60"/>
<rect x="1031.25" y="728.1" width="0.9" height="17.5" fill="#466e5a"/>
<rect x="1030.45" y="731.6" width="2.5" height="13.7" fill="#0a5a2e"/>
<rect x="1031.25" y="732.4" width="0.9" height="12.1" fill="#00c870"/>
<rect x="1034.15" y="725.1" width="0.9" height="8.3" fill="#466e5a"/>
<rect x="1033.35" y="731.8" width="2.5" height="0.9" fill="#7a1f1a"/>
<rect x="1037.15" y="708.0" width="0.9" height="11.1" fill="#466e5a"/>
<rect x="1036.35" y="708.7" width="2.5" height="9.7" fill="#0a5a2e"/>
<rect x="1037.15" y="709.5" width="0.9" height="8.1" fill="#00c870"/>
<rect x="1039.85" y="691.1" width="0.9" height="19.9" fill="#466e5a"/>
<rect x="1039.05" y="709.7" width="2.5" height="0.9" fill="#0a5a2e"/>
<rect x="1043.15" y="706.7" width="0.9" height="9.4" fill="#466e5a"/>
<rect x="1042.35" y="709.4" width="2.5" height="6.3" fill="#7a1f1a"/>
<rect x="1043.15" y="710.2" width="0.9" height="4.7" fill="#ff6a60"/>
<rect x="1045.55" y="691.7" width="0.9" height="14.0" fill="#466e5a"/>
<rect x="1044.75" y="704.2" width="2.5" height="0.9" fill="#7a1f1a"/>
<rect x="1048.85" y="697.7" width="0.9" height="13.2" fill="#466e5a"/>
<rect x="1048.05" y="701.2" width="2.5" height="7.5" fill="#7a1f1a"/>
<rect x="1048.85" y="702.0" width="0.9" height="5.9" fill="#ff6a60"/>
<rect x="1052.25" y="700.7" width="0.9" height="13.2" fill="#466e5a"/>
<rect x="1051.45" y="705.7" width="2.5" height="4.9" fill="#0a5a2e"/>
<rect x="1052.25" y="706.5" width="0.9" height="3.3" fill="#00c870"/>
<rect x="1054.75" y="703.4" width="0.9" height="12.7" fill="#466e5a"/>
<rect x="1053.95" y="704.2" width="2.5" height="11.2" fill="#7a1f1a"/>
<rect x="1054.75" y="705.0" width="0.9" height="9.6" fill="#ff6a60"/>
<rect x="1058.05" y="692.2" width="0.9" height="27.7" fill="#466e5a"/>
<rect x="1057.25" y="701.2" width="2.5" height="18.4" fill="#0a5a2e"/>
<rect x="1058.05" y="702.0" width="0.9" height="16.8" fill="#00c870"/>
<rect x="1060.75" y="697.4" width="0.9" height="7.5" fill="#466e5a"/>
<rect x="1059.95" y="700.0" width="2.5" height="0.9" fill="#0a5a2e"/>
<rect x="1064.05" y="704.6" width="0.9" height="10.0" fill="#466e5a"/>
<rect x="1063.25" y="705.2" width="2.5" height="8.4" fill="#7a1f1a"/>
<rect x="1064.05" y="706.0" width="0.9" height="6.8" fill="#ff6a60"/>
<rect x="1066.35" y="709.4" width="0.9" height="26.2" fill="#466e5a"/>
<rect x="1065.55" y="712.4" width="2.5" height="21.7" fill="#7a1f1a"/>
<rect x="1066.35" y="713.2" width="0.9" height="20.1" fill="#ff6a60"/>
<rect x="1069.75" y="739.3" width="0.9" height="22.5" fill="#466e5a"/>
<rect x="1068.95" y="748.0" width="2.5" height="5.6" fill="#7a1f1a"/>
<rect x="1069.75" y="748.8" width="0.9" height="4.0" fill="#ff6a60"/>
<rect x="1072.35" y="751.3" width="0.9" height="11.2" fill="#466e5a"/>
<rect x="1071.55" y="754.0" width="2.5" height="2.6" fill="#0a5a2e"/>
<rect x="1072.35" y="754.8" width="0.9" height="1.0" fill="#00c870"/>
<rect x="1075.75" y="748.3" width="0.9" height="14.9" fill="#466e5a"/>
<rect x="1074.95" y="749.4" width="2.5" height="4.0" fill="#7a1f1a"/>
<rect x="1075.75" y="750.2" width="0.9" height="2.4" fill="#ff6a60"/>
<rect x="1077.95" y="740.8" width="0.9" height="15.0" fill="#466e5a"/>
<rect x="1077.15" y="742.0" width="2.5" height="13.1" fill="#0a5a2e"/>
<rect x="1077.95" y="742.8" width="0.9" height="11.5" fill="#00c870"/>
<rect x="1081.35" y="712.7" width="0.9" height="28.7" fill="#466e5a"/>
<rect x="1080.55" y="725.2" width="2.5" height="13.5" fill="#0a5a2e"/>
<rect x="1081.35" y="726.0" width="0.9" height="11.9" fill="#00c870"/>
<rect x="1084.75" y="724.2" width="0.9" height="12.0" fill="#466e5a"/>
<rect x="1083.95" y="724.9" width="2.5" height="10.5" fill="#7a1f1a"/>
<rect x="1084.75" y="725.7" width="0.9" height="8.9" fill="#ff6a60"/>
<rect x="1087.35" y="719.7" width="0.9" height="14.2" fill="#466e5a"/>
<rect x="1086.55" y="720.4" width="2.5" height="9.8" fill="#0a5a2e"/>
<rect x="1087.35" y="721.2" width="0.9" height="8.2" fill="#00c870"/>
<rect x="1090.75" y="718.9" width="0.9" height="19.5" fill="#466e5a"/>
<rect x="1089.95" y="721.2" width="2.5" height="16.5" fill="#7a1f1a"/>
<rect x="1090.75" y="722.0" width="0.9" height="14.9" fill="#ff6a60"/>
<rect x="1092.95" y="722.7" width="0.9" height="15.0" fill="#466e5a"/>
<rect x="1092.15" y="723.4" width="2.5" height="13.5" fill="#0a5a2e"/>
<rect x="1092.95" y="724.2" width="0.9" height="11.9" fill="#00c870"/>
<rect x="1096.25" y="703.2" width="0.9" height="37.5" fill="#466e5a"/>
<rect x="1095.45" y="703.7" width="2.5" height="28.0" fill="#7a1f1a"/>
<rect x="1096.25" y="704.5" width="0.9" height="26.4" fill="#ff6a60"/>
<rect x="1098.95" y="722.7" width="0.9" height="16.5" fill="#466e5a"/>
<rect x="1098.15" y="725.7" width="2.5" height="8.5" fill="#0a5a2e"/>
<rect x="1098.95" y="726.5" width="0.9" height="6.9" fill="#00c870"/>
<rect x="1101.95" y="721.2" width="0.9" height="28.4" fill="#466e5a"/>
<rect x="1101.15" y="724.6" width="2.5" height="24.3" fill="#7a1f1a"/>
<rect x="1101.95" y="725.4" width="0.9" height="22.7" fill="#ff6a60"/>
<rect x="1104.65" y="723.4" width="0.9" height="26.2" fill="#466e5a"/>
<rect x="1103.85" y="724.2" width="2.5" height="24.7" fill="#0a5a2e"/>
<rect x="1104.65" y="725.0" width="0.9" height="23.1" fill="#00c870"/>
<rect x="1107.95" y="716.0" width="0.9" height="14.9" fill="#466e5a"/>
<rect x="1107.15" y="716.3" width="2.5" height="13.9" fill="#7a1f1a"/>
<rect x="1107.95" y="717.1" width="0.9" height="12.3" fill="#ff6a60"/>
<rect x="1110.65" y="716.3" width="0.9" height="16.1" fill="#466e5a"/>
<rect x="1109.85" y="721.2" width="2.5" height="9.0" fill="#0a5a2e"/>
<rect x="1110.65" y="722.0" width="0.9" height="7.4" fill="#00c870"/>
<rect x="1113.95" y="716.7" width="0.9" height="7.0" fill="#466e5a"/>
<rect x="1113.15" y="717.5" width="2.5" height="5.6" fill="#0a5a2e"/>
<rect x="1113.95" y="718.3" width="0.9" height="4.0" fill="#00c870"/>
<rect x="1116.95" y="713.3" width="0.9" height="23.6" fill="#466e5a"/>
<rect x="1116.15" y="719.3" width="2.5" height="16.9" fill="#7a1f1a"/>
<rect x="1116.95" y="720.1" width="0.9" height="15.3" fill="#ff6a60"/>
<rect x="1119.65" y="730.9" width="0.9" height="15.7" fill="#466e5a"/>
<rect x="1118.85" y="736.2" width="2.5" height="6.0" fill="#7a1f1a"/>
<rect x="1119.65" y="737.0" width="0.9" height="4.4" fill="#ff6a60"/>
<rect x="1122.95" y="738.4" width="0.9" height="43.4" fill="#466e5a"/>
<rect x="1122.15" y="747.7" width="2.5" height="26.6" fill="#7a1f1a"/>
<rect x="1122.95" y="748.5" width="0.9" height="25.0" fill="#ff6a60"/>
<rect x="1125.45" y="771.3" width="0.9" height="21.8" fill="#466e5a"/>
<rect x="1124.65" y="779.1" width="2.5" height="4.5" fill="#7a1f1a"/>
<rect x="1125.45" y="779.9" width="0.9" height="2.9" fill="#ff6a60"/>
<rect x="1128.95" y="769.9" width="0.9" height="6.7" fill="#466e5a"/>
<rect x="1128.15" y="770.6" width="2.5" height="5.5" fill="#0a5a2e"/>
<rect x="1128.95" y="771.4" width="0.9" height="3.9" fill="#00c870"/>
<rect x="1131.15" y="763.1" width="0.9" height="19.5" fill="#466e5a"/>
<rect x="1130.35" y="769.5" width="2.5" height="0.9" fill="#7a1f1a"/>
<rect x="1134.65" y="766.9" width="0.9" height="5.9" fill="#466e5a"/>
<rect x="1133.85" y="768.1" width="2.5" height="2.5" fill="#7a1f1a"/>
<rect x="1134.65" y="768.9" width="0.9" height="0.9" fill="#ff6a60"/>
<rect x="1137.15" y="772.1" width="0.9" height="17.5" fill="#466e5a"/>
<rect x="1136.35" y="783.3" width="2.5" height="6.0" fill="#0a5a2e"/>
<rect x="1137.15" y="784.1" width="0.9" height="4.4" fill="#00c870"/>
<rect x="1140.55" y="754.1" width="0.9" height="31.5" fill="#466e5a"/>
<rect x="1139.75" y="759.1" width="2.5" height="25.7" fill="#0a5a2e"/>
<rect x="1140.55" y="759.9" width="0.9" height="24.1" fill="#00c870"/>
<rect x="1143.15" y="739.2" width="0.9" height="19.4" fill="#466e5a"/>
<rect x="1142.35" y="749.6" width="2.5" height="4.1" fill="#7a1f1a"/>
<rect x="1143.15" y="750.4" width="0.9" height="2.5" fill="#ff6a60"/>
<rect x="1146.45" y="739.2" width="0.9" height="18.7" fill="#466e5a"/>
<rect x="1145.65" y="741.1" width="2.5" height="10.0" fill="#0a5a2e"/>
<rect x="1146.45" y="741.9" width="0.9" height="8.4" fill="#00c870"/>
<rect x="1149.85" y="734.2" width="0.9" height="24.4" fill="#466e5a"/>
<rect x="1149.05" y="743.2" width="2.5" height="13.2" fill="#7a1f1a"/>
<rect x="1149.85" y="744.0" width="0.9" height="11.6" fill="#ff6a60"/>
<rect x="1152.15" y="751.1" width="0.9" height="22.5" fill="#466e5a"/>
<rect x="1151.35" y="754.1" width="2.5" height="18.7" fill="#7a1f1a"/>
<rect x="1152.15" y="754.9" width="0.9" height="17.1" fill="#ff6a60"/>
<rect x="1155.55" y="756.4" width="0.9" height="32.2" fill="#466e5a"/>
<rect x="1154.75" y="763.1" width="2.5" height="9.4" fill="#7a1f1a"/>
<rect x="1155.55" y="763.9" width="0.9" height="7.8" fill="#ff6a60"/>
<rect x="1158.15" y="763.1" width="0.9" height="9.0" fill="#466e5a"/>
<rect x="1157.35" y="763.6" width="2.5" height="7.7" fill="#0a5a2e"/>
<rect x="1158.15" y="764.4" width="0.9" height="6.1" fill="#00c870"/>
<rect x="1161.15" y="745.1" width="0.9" height="11.3" fill="#466e5a"/>
<rect x="1160.35" y="751.1" width="2.5" height="3.5" fill="#0a5a2e"/>
<rect x="1161.15" y="751.9" width="0.9" height="1.9" fill="#00c870"/>
<rect x="1163.85" y="739.2" width="0.9" height="17.2" fill="#466e5a"/>
<rect x="1163.05" y="742.9" width="2.5" height="8.2" fill="#0a5a2e"/>
<rect x="1163.85" y="743.7" width="0.9" height="6.6" fill="#00c870"/>
<rect x="1167.05" y="719.3" width="0.9" height="30.3" fill="#466e5a"/>
<rect x="1166.25" y="727.9" width="2.5" height="16.5" fill="#0a5a2e"/>
<rect x="1167.05" y="728.7" width="0.9" height="14.9" fill="#00c870"/>
<rect x="1169.75" y="723.4" width="0.9" height="12.8" fill="#466e5a"/>
<rect x="1168.95" y="728.7" width="2.5" height="6.7" fill="#7a1f1a"/>
<rect x="1169.75" y="729.5" width="0.9" height="5.1" fill="#ff6a60"/>
<rect x="1173.05" y="711.2" width="0.9" height="22.0" fill="#466e5a"/>
<rect x="1172.25" y="719.3" width="2.5" height="13.1" fill="#7a1f1a"/>
<rect x="1173.05" y="720.1" width="0.9" height="11.5" fill="#ff6a60"/>
<rect x="1175.65" y="721.2" width="0.9" height="13.0" fill="#466e5a"/>
<rect x="1174.85" y="730.9" width="2.5" height="2.7" fill="#7a1f1a"/>
<rect x="1175.65" y="731.7" width="0.9" height="1.1" fill="#ff6a60"/>
<rect x="1179.05" y="705.8" width="0.9" height="18.4" fill="#466e5a"/>
<rect x="1178.25" y="713.7" width="2.5" height="5.0" fill="#7a1f1a"/>
<rect x="1179.05" y="714.5" width="0.9" height="3.4" fill="#ff6a60"/>
<rect x="1182.05" y="707.0" width="0.9" height="24.7" fill="#466e5a"/>
<rect x="1181.25" y="714.2" width="2.5" height="5.5" fill="#0a5a2e"/>
<rect x="1182.05" y="715.0" width="0.9" height="3.9" fill="#00c870"/>
<rect x="1185.05" y="701.7" width="0.9" height="14.3" fill="#466e5a"/>
<rect x="1184.25" y="710.0" width="2.5" height="4.8" fill="#0a5a2e"/>
<rect x="1185.05" y="710.8" width="0.9" height="3.2" fill="#00c870"/>
<rect x="1188.05" y="688.0" width="0.9" height="16.6" fill="#466e5a"/>
<rect x="1187.25" y="703.3" width="2.5" height="0.9" fill="#0a5a2e"/>
<rect x="1190.55" y="701.8" width="0.9" height="11.9" fill="#466e5a"/>
<rect x="1189.75" y="702.7" width="2.5" height="10.3" fill="#7a1f1a"/>
<rect x="1190.55" y="703.5" width="0.9" height="8.7" fill="#ff6a60"/>
<rect x="1193.55" y="684.1" width="0.9" height="17.7" fill="#466e5a"/>
<rect x="1192.75" y="691.3" width="2.5" height="4.2" fill="#0a5a2e"/>
<rect x="1193.55" y="692.1" width="0.9" height="2.6" fill="#00c870"/>
<rect x="1196.15" y="689.8" width="0.9" height="10.2" fill="#466e5a"/>
<rect x="1195.35" y="691.3" width="2.5" height="2.2" fill="#7a1f1a"/>
<rect x="1196.15" y="692.1" width="0.9" height="0.6" fill="#ff6a60"/>
<rect x="1199.95" y="683.1" width="0.9" height="27.6" fill="#466e5a"/>
<rect x="1199.15" y="693.5" width="2.5" height="3.5" fill="#0a5a2e"/>
<rect x="1199.95" y="694.3" width="0.9" height="1.9" fill="#00c870"/>
<rect x="1202.15" y="686.8" width="0.9" height="25.4" fill="#466e5a"/>
<rect x="1201.35" y="698.4" width="2.5" height="11.3" fill="#7a1f1a"/>
<rect x="1202.15" y="699.2" width="0.9" height="9.7" fill="#ff6a60"/>
<rect x="1205.55" y="706.2" width="0.9" height="13.8" fill="#466e5a"/>
<rect x="1204.75" y="710.6" width="2.5" height="9.1" fill="#7a1f1a"/>
<rect x="1205.55" y="711.4" width="0.9" height="7.5" fill="#ff6a60"/>
<rect x="1208.25" y="698.8" width="0.9" height="41.2" fill="#466e5a"/>
<rect x="1207.45" y="701.0" width="2.5" height="38.6" fill="#0a5a2e"/>
<rect x="1208.25" y="701.8" width="0.9" height="37.0" fill="#00c870"/>
<rect x="1211.15" y="684.6" width="0.9" height="26.1" fill="#466e5a"/>
<rect x="1210.35" y="701.0" width="2.5" height="1.0" fill="#7a1f1a"/>
<rect x="1214.55" y="688.3" width="0.9" height="15.7" fill="#466e5a"/>
<rect x="1213.75" y="693.1" width="2.5" height="6.4" fill="#0a5a2e"/>
<rect x="1214.55" y="693.9" width="0.9" height="4.8" fill="#00c870"/>
<rect x="1217.15" y="690.5" width="0.9" height="14.2" fill="#466e5a"/>
<rect x="1216.35" y="693.1" width="2.5" height="9.2" fill="#7a1f1a"/>
<rect x="1217.15" y="693.9" width="0.9" height="7.6" fill="#ff6a60"/>
<rect x="1220.45" y="700.0" width="0.9" height="11.0" fill="#466e5a"/>
<rect x="1219.65" y="707.8" width="2.5" height="2.6" fill="#7a1f1a"/>
<rect x="1220.45" y="708.6" width="0.9" height="1.0" fill="#ff6a60"/>
<rect x="1222.95" y="688.0" width="0.9" height="25.0" fill="#466e5a"/>
<rect x="1222.15" y="691.3" width="2.5" height="19.4" fill="#0a5a2e"/>
<rect x="1222.95" y="692.1" width="0.9" height="17.8" fill="#00c870"/>
<rect x="1226.15" y="679.5" width="0.9" height="12.1" fill="#466e5a"/>
<rect x="1225.35" y="680.1" width="2.5" height="10.9" fill="#7a1f1a"/>
<rect x="1226.15" y="680.9" width="0.9" height="9.3" fill="#ff6a60"/>
<rect x="1229.15" y="686.8" width="0.9" height="21.4" fill="#466e5a"/>
<rect x="1228.35" y="690.5" width="2.5" height="8.9" fill="#7a1f1a"/>
<rect x="1229.15" y="691.3" width="0.9" height="7.3" fill="#ff6a60"/>
<rect x="1231.75" y="688.0" width="0.9" height="12.2" fill="#466e5a"/>
<rect x="1230.95" y="690.5" width="2.5" height="9.0" fill="#0a5a2e"/>
<rect x="1231.75" y="691.3" width="0.9" height="7.4" fill="#00c870"/>
<rect x="1234.75" y="686.8" width="0.9" height="22.4" fill="#466e5a"/>
<rect x="1233.95" y="694.0" width="2.5" height="2.5" fill="#7a1f1a"/>
<rect x="1234.75" y="694.8" width="0.9" height="0.9" fill="#ff6a60"/>
<rect x="1238.15" y="693.5" width="0.9" height="14.9" fill="#466e5a"/>
<rect x="1237.35" y="695.5" width="2.5" height="2.5" fill="#0a5a2e"/>
<rect x="1238.15" y="696.3" width="0.9" height="0.9" fill="#00c870"/>
<rect x="1240.55" y="576.6" width="0.9" height="108.0" fill="#466e5a"/>
<rect x="1239.75" y="580.7" width="2.5" height="100.1" fill="#0a5a2e"/>
<rect x="1240.55" y="581.5" width="0.9" height="98.5" fill="#00c870"/>
<rect x="1244.05" y="578.9" width="0.9" height="24.7" fill="#466e5a"/>
<rect x="1243.25" y="579.6" width="2.5" height="3.0" fill="#0a5a2e"/>
<rect x="1244.05" y="580.4" width="0.9" height="1.4" fill="#00c870"/>
<rect x="1247.15" y="587.1" width="0.9" height="66.7" fill="#466e5a"/>
<rect x="1246.35" y="598.4" width="2.5" height="54.6" fill="#7a1f1a"/>
<rect x="1247.15" y="599.2" width="0.9" height="53.0" fill="#ff6a60"/>
<rect x="1250.05" y="644.1" width="0.9" height="15.8" fill="#466e5a"/>
<rect x="1249.25" y="652.0" width="2.5" height="0.9" fill="#7a1f1a"/>
<rect x="1253.05" y="632.5" width="0.9" height="60.3" fill="#466e5a"/>
<rect x="1252.25" y="648.6" width="2.5" height="39.7" fill="#7a1f1a"/>
<rect x="1253.05" y="649.4" width="0.9" height="38.1" fill="#ff6a60"/>
<rect x="1255.65" y="675.0" width="0.9" height="16.3" fill="#466e5a"/>
<rect x="1254.85" y="675.6" width="2.5" height="14.9" fill="#0a5a2e"/>
<rect x="1255.65" y="676.4" width="0.9" height="13.3" fill="#00c870"/>
<rect x="1258.95" y="647.1" width="0.9" height="36.0" fill="#466e5a"/>
<rect x="1258.15" y="647.9" width="2.5" height="23.9" fill="#0a5a2e"/>
<rect x="1258.95" y="648.7" width="0.9" height="22.3" fill="#00c870"/>
<rect x="1261.15" y="634.1" width="0.9" height="18.3" fill="#466e5a"/>
<rect x="1260.35" y="647.1" width="2.5" height="4.5" fill="#7a1f1a"/>
<rect x="1261.15" y="647.9" width="0.9" height="2.9" fill="#ff6a60"/>
<rect x="1264.65" y="611.9" width="0.9" height="29.7" fill="#466e5a"/>
<rect x="1263.85" y="621.8" width="2.5" height="17.8" fill="#0a5a2e"/>
<rect x="1264.65" y="622.6" width="0.9" height="16.2" fill="#00c870"/>
<rect x="1267.05" y="619.0" width="0.9" height="13.9" fill="#466e5a"/>
<rect x="1266.25" y="624.0" width="2.5" height="7.4" fill="#7a1f1a"/>
<rect x="1267.05" y="624.8" width="0.9" height="5.8" fill="#ff6a60"/>
<rect x="1270.55" y="622.8" width="0.9" height="52.0" fill="#466e5a"/>
<rect x="1269.75" y="652.1" width="2.5" height="18.5" fill="#7a1f1a"/>
<rect x="1270.55" y="652.9" width="0.9" height="16.9" fill="#ff6a60"/>
<rect x="1273.15" y="666.6" width="0.9" height="6.7" fill="#466e5a"/>
<rect x="1272.35" y="667.3" width="2.5" height="4.5" fill="#0a5a2e"/>
<rect x="1273.15" y="668.1" width="0.9" height="2.9" fill="#00c870"/>
<rect x="1276.25" y="654.6" width="0.9" height="8.2" fill="#466e5a"/>
<rect x="1275.45" y="661.0" width="2.5" height="0.9" fill="#0a5a2e"/>
<rect x="1280.05" y="646.7" width="0.9" height="39.3" fill="#466e5a"/>
<rect x="1279.25" y="660.1" width="2.5" height="25.2" fill="#7a1f1a"/>
<rect x="1280.05" y="660.9" width="0.9" height="23.6" fill="#ff6a60"/>
<rect x="1282.15" y="683.0" width="0.9" height="11.0" fill="#466e5a"/>
<rect x="1281.35" y="683.5" width="2.5" height="5.1" fill="#7a1f1a"/>
<rect x="1282.15" y="684.3" width="0.9" height="3.5" fill="#ff6a60"/>
<rect x="1285.55" y="677.8" width="0.9" height="19.5" fill="#466e5a"/>
<rect x="1284.75" y="678.6" width="2.5" height="3.7" fill="#0a5a2e"/>
<rect x="1285.55" y="679.4" width="0.9" height="2.1" fill="#00c870"/>
<rect x="1288.15" y="668.1" width="0.9" height="18.7" fill="#466e5a"/>
<rect x="1287.35" y="677.5" width="2.5" height="6.0" fill="#0a5a2e"/>
<rect x="1288.15" y="678.3" width="0.9" height="4.4" fill="#00c870"/>
<rect x="1291.25" y="659.1" width="0.9" height="32.2" fill="#466e5a"/>
<rect x="1290.45" y="670.0" width="2.5" height="12.3" fill="#0a5a2e"/>
<rect x="1291.25" y="670.8" width="0.9" height="10.7" fill="#00c870"/>
<rect x="1294.15" y="668.8" width="0.9" height="18.7" fill="#466e5a"/>
<rect x="1293.35" y="669.6" width="2.5" height="9.7" fill="#7a1f1a"/>
<rect x="1294.15" y="670.4" width="0.9" height="8.1" fill="#ff6a60"/>
<rect x="1297.25" y="672.6" width="0.9" height="20.9" fill="#466e5a"/>
<rect x="1296.45" y="673.6" width="2.5" height="13.2" fill="#7a1f1a"/>
<rect x="1297.25" y="674.4" width="0.9" height="11.6" fill="#ff6a60"/>
<rect x="1299.75" y="659.9" width="0.9" height="20.2" fill="#466e5a"/>
<rect x="1298.95" y="667.0" width="2.5" height="12.3" fill="#0a5a2e"/>
<rect x="1299.75" y="667.8" width="0.9" height="10.7" fill="#00c870"/>
<rect x="1303.25" y="656.9" width="0.9" height="9.7" fill="#466e5a"/>
<rect x="1302.45" y="662.5" width="2.5" height="3.3" fill="#0a5a2e"/>
<rect x="1303.25" y="663.3" width="0.9" height="1.7" fill="#00c870"/>
<rect x="1305.45" y="661.3" width="0.9" height="17.3" fill="#466e5a"/>
<rect x="1304.65" y="662.1" width="2.5" height="15.7" fill="#0a5a2e"/>
<rect x="1305.45" y="662.9" width="0.9" height="14.1" fill="#00c870"/>
<rect x="1309.05" y="659.6" width="0.9" height="21.2" fill="#466e5a"/>
<rect x="1308.25" y="666.1" width="2.5" height="7.5" fill="#7a1f1a"/>
<rect x="1309.05" y="666.9" width="0.9" height="5.9" fill="#ff6a60"/>
<rect x="1312.25" y="652.1" width="0.9" height="30.2" fill="#466e5a"/>
<rect x="1311.45" y="669.6" width="2.5" height="12.0" fill="#7a1f1a"/>
<rect x="1312.25" y="670.4" width="0.9" height="10.4" fill="#ff6a60"/>
<rect x="1314.75" y="680.8" width="0.9" height="27.8" fill="#466e5a"/>
<rect x="1313.95" y="681.6" width="2.5" height="17.9" fill="#7a1f1a"/>
<rect x="1314.75" y="682.4" width="0.9" height="16.3" fill="#ff6a60"/>
<rect x="1317.95" y="679.6" width="0.9" height="30.9" fill="#466e5a"/>
<rect x="1317.15" y="680.8" width="2.5" height="28.5" fill="#0a5a2e"/>
<rect x="1317.95" y="681.6" width="0.9" height="26.9" fill="#00c870"/>
<rect x="1320.45" y="679.3" width="0.9" height="9.0" fill="#466e5a"/>
<rect x="1319.65" y="680.1" width="2.5" height="7.4" fill="#7a1f1a"/>
<rect x="1320.45" y="680.9" width="0.9" height="5.8" fill="#ff6a60"/>
<rect x="1324.05" y="671.1" width="0.9" height="35.9" fill="#466e5a"/>
<rect x="1323.25" y="679.3" width="2.5" height="22.6" fill="#7a1f1a"/>
<rect x="1324.05" y="680.1" width="0.9" height="21.0" fill="#ff6a60"/>
<rect x="1326.45" y="689.8" width="0.9" height="11.2" fill="#466e5a"/>
<rect x="1325.65" y="694.3" width="2.5" height="6.1" fill="#0a5a2e"/>
<rect x="1326.45" y="695.1" width="0.9" height="4.5" fill="#00c870"/>
<rect x="1330.05" y="681.5" width="0.9" height="14.3" fill="#466e5a"/>
<rect x="1329.25" y="682.3" width="2.5" height="4.2" fill="#0a5a2e"/>
<rect x="1330.05" y="683.1" width="0.9" height="2.6" fill="#00c870"/>
<rect x="1332.45" y="671.5" width="0.9" height="10.1" fill="#466e5a"/>
<rect x="1331.65" y="674.8" width="2.5" height="5.7" fill="#0a5a2e"/>
<rect x="1332.45" y="675.6" width="0.9" height="4.1" fill="#00c870"/>
<rect x="1335.45" y="668.1" width="0.9" height="16.5" fill="#466e5a"/>
<rect x="1334.65" y="673.6" width="2.5" height="3.0" fill="#0a5a2e"/>
<rect x="1335.45" y="674.4" width="0.9" height="1.4" fill="#00c870"/>
<rect x="1338.45" y="662.5" width="0.9" height="9.6" fill="#466e5a"/>
<rect x="1337.65" y="665.5" width="2.5" height="6.0" fill="#0a5a2e"/>
<rect x="1338.45" y="666.3" width="0.9" height="4.4" fill="#00c870"/>
<rect x="1341.45" y="656.9" width="0.9" height="11.6" fill="#466e5a"/>
<rect x="1340.65" y="658.1" width="2.5" height="9.5" fill="#0a5a2e"/>
<rect x="1341.45" y="658.9" width="0.9" height="7.9" fill="#00c870"/>
<rect x="1344.95" y="641.9" width="0.9" height="15.7" fill="#466e5a"/>
<rect x="1344.15" y="653.1" width="2.5" height="3.8" fill="#0a5a2e"/>
<rect x="1344.95" y="653.9" width="0.9" height="2.2" fill="#00c870"/>
<rect x="1347.65" y="653.0" width="0.9" height="4.0" fill="#466e5a"/>
<rect x="1346.85" y="655.0" width="2.5" height="0.9" fill="#0a5a2e"/>
<rect x="1350.65" y="645.2" width="0.9" height="19.1" fill="#466e5a"/>
<rect x="1349.85" y="654.6" width="2.5" height="9.0" fill="#0a5a2e"/>
<rect x="1350.65" y="655.4" width="0.9" height="7.4" fill="#00c870"/>
<rect x="1353.25" y="647.9" width="0.9" height="14.9" fill="#466e5a"/>
<rect x="1352.45" y="654.2" width="2.5" height="5.4" fill="#7a1f1a"/>
<rect x="1353.25" y="655.0" width="0.9" height="3.8" fill="#ff6a60"/>
<rect x="1356.35" y="659.1" width="0.9" height="21.7" fill="#466e5a"/>
<rect x="1355.55" y="664.0" width="2.5" height="7.5" fill="#0a5a2e"/>
<rect x="1356.35" y="664.8" width="0.9" height="5.9" fill="#00c870"/>
<rect x="1359.15" y="637.0" width="0.9" height="25.8" fill="#466e5a"/>
<rect x="1358.35" y="643.1" width="2.5" height="19.0" fill="#0a5a2e"/>
<rect x="1359.15" y="643.9" width="0.9" height="17.4" fill="#00c870"/>
<rect x="1362.15" y="631.4" width="0.9" height="10.2" fill="#466e5a"/>
<rect x="1361.35" y="636.2" width="2.5" height="3.4" fill="#0a5a2e"/>
<rect x="1362.15" y="637.0" width="0.9" height="1.8" fill="#00c870"/>
<rect x="1364.85" y="607.1" width="0.9" height="23.5" fill="#466e5a"/>
<rect x="1364.05" y="612.0" width="2.5" height="18.2" fill="#0a5a2e"/>
<rect x="1364.85" y="612.8" width="0.9" height="16.6" fill="#00c870"/>
<rect x="1368.15" y="606.8" width="0.9" height="11.9" fill="#466e5a"/>
<rect x="1367.35" y="607.6" width="2.5" height="3.3" fill="#0a5a2e"/>
<rect x="1368.15" y="608.4" width="0.9" height="1.7" fill="#00c870"/>
<rect x="1370.65" y="575.9" width="0.9" height="28.5" fill="#466e5a"/>
<rect x="1369.85" y="577.7" width="2.5" height="20.3" fill="#0a5a2e"/>
<rect x="1370.65" y="578.5" width="0.9" height="18.7" fill="#00c870"/>
<rect x="1373.75" y="556.0" width="0.9" height="44.3" fill="#466e5a"/>
<rect x="1372.95" y="581.9" width="2.5" height="13.4" fill="#7a1f1a"/>
<rect x="1373.75" y="582.7" width="0.9" height="11.8" fill="#ff6a60"/>
<rect x="1377.35" y="583.4" width="0.9" height="24.1" fill="#466e5a"/>
<rect x="1376.55" y="598.3" width="2.5" height="8.5" fill="#0a5a2e"/>
<rect x="1377.35" y="599.1" width="0.9" height="6.9" fill="#00c870"/>
<rect x="1379.75" y="595.4" width="0.9" height="20.2" fill="#466e5a"/>
<rect x="1378.95" y="600.0" width="2.5" height="7.3" fill="#7a1f1a"/>
<rect x="1379.75" y="600.8" width="0.9" height="5.7" fill="#ff6a60"/>
<rect x="1383.05" y="592.3" width="0.9" height="12.0" fill="#466e5a"/>
<rect x="1382.25" y="593.4" width="2.5" height="10.1" fill="#0a5a2e"/>
<rect x="1383.05" y="594.2" width="0.9" height="8.5" fill="#00c870"/>
<rect x="1385.55" y="594.6" width="0.9" height="23.1" fill="#466e5a"/>
<rect x="1384.75" y="601.3" width="2.5" height="6.4" fill="#7a1f1a"/>
<rect x="1385.55" y="602.1" width="0.9" height="4.8" fill="#ff6a60"/>
<rect x="1389.05" y="603.3" width="0.9" height="12.0" fill="#466e5a"/>
<rect x="1388.25" y="610.2" width="2.5" height="4.3" fill="#7a1f1a"/>
<rect x="1389.05" y="611.0" width="0.9" height="2.7" fill="#ff6a60"/>
<rect x="1391.35" y="593.8" width="0.9" height="23.3" fill="#466e5a"/>
<rect x="1390.55" y="594.3" width="2.5" height="18.3" fill="#7a1f1a"/>
<rect x="1391.35" y="595.1" width="0.9" height="16.7" fill="#ff6a60"/>
<rect x="1394.55" y="603.6" width="0.9" height="10.9" fill="#466e5a"/>
<rect x="1393.75" y="612.8" width="2.5" height="0.9" fill="#7a1f1a"/>
<rect x="1397.15" y="600.3" width="0.9" height="17.4" fill="#466e5a"/>
<rect x="1396.35" y="607.1" width="2.5" height="4.4" fill="#0a5a2e"/>
<rect x="1397.15" y="607.9" width="0.9" height="2.8" fill="#00c870"/>
<rect x="1400.75" y="574.0" width="0.9" height="33.7" fill="#466e5a"/>
<rect x="1399.95" y="581.1" width="2.5" height="26.0" fill="#0a5a2e"/>
<rect x="1400.75" y="581.9" width="0.9" height="24.4" fill="#00c870"/>
<rect x="1403.15" y="560.2" width="0.9" height="35.9" fill="#466e5a"/>
<rect x="1402.35" y="571.4" width="2.5" height="24.0" fill="#0a5a2e"/>
<rect x="1403.15" y="572.2" width="0.9" height="22.4" fill="#00c870"/>
<rect x="1406.45" y="562.1" width="0.9" height="16.0" fill="#466e5a"/>
<rect x="1405.65" y="563.2" width="2.5" height="8.2" fill="#0a5a2e"/>
<rect x="1406.45" y="564.0" width="0.9" height="6.6" fill="#00c870"/>
<rect x="1409.95" y="543.3" width="0.9" height="23.7" fill="#466e5a"/>
<rect x="1409.15" y="554.2" width="2.5" height="12.0" fill="#7a1f1a"/>
<rect x="1409.95" y="555.0" width="0.9" height="10.4" fill="#ff6a60"/>
<rect x="1412.15" y="567.2" width="0.9" height="10.9" fill="#466e5a"/>
<rect x="1411.35" y="569.2" width="2.5" height="8.2" fill="#7a1f1a"/>
<rect x="1412.15" y="570.0" width="0.9" height="6.6" fill="#ff6a60"/>
<rect x="1415.65" y="562.4" width="0.9" height="29.3" fill="#466e5a"/>
<rect x="1414.85" y="571.7" width="2.5" height="19.5" fill="#7a1f1a"/>
<rect x="1415.65" y="572.5" width="0.9" height="17.9" fill="#ff6a60"/>
<rect x="1418.15" y="590.5" width="0.9" height="16.7" fill="#466e5a"/>
<rect x="1417.35" y="591.2" width="2.5" height="11.2" fill="#7a1f1a"/>
<rect x="1418.15" y="592.0" width="0.9" height="9.6" fill="#ff6a60"/>
<rect x="1421.45" y="605.1" width="0.9" height="24.4" fill="#466e5a"/>
<rect x="1420.65" y="613.8" width="2.5" height="0.9" fill="#7a1f1a"/>
<rect x="1423.95" y="600.3" width="0.9" height="13.3" fill="#466e5a"/>
<rect x="1423.15" y="609.6" width="2.5" height="3.4" fill="#0a5a2e"/>
<rect x="1423.95" y="610.4" width="0.9" height="1.8" fill="#00c870"/>
<rect x="1427.15" y="583.4" width="0.9" height="21.6" fill="#466e5a"/>
<rect x="1426.35" y="586.7" width="2.5" height="17.7" fill="#7a1f1a"/>
<rect x="1427.15" y="587.5" width="0.9" height="16.1" fill="#ff6a60"/>
<rect x="1429.95" y="599.1" width="0.9" height="13.6" fill="#466e5a"/>
<rect x="1429.15" y="605.1" width="2.5" height="7.0" fill="#7a1f1a"/>
<rect x="1429.95" y="605.9" width="0.9" height="5.4" fill="#ff6a60"/>
<rect x="1433.15" y="586.0" width="0.9" height="11.1" fill="#466e5a"/>
<rect x="1432.35" y="586.9" width="2.5" height="9.7" fill="#0a5a2e"/>
<rect x="1433.15" y="587.7" width="0.9" height="8.1" fill="#00c870"/>
<rect x="1435.85" y="584.6" width="0.9" height="26.4" fill="#466e5a"/>
<rect x="1435.05" y="586.7" width="2.5" height="23.6" fill="#7a1f1a"/>
<rect x="1435.85" y="587.5" width="0.9" height="22.0" fill="#ff6a60"/>
<rect x="1439.15" y="604.5" width="0.9" height="11.1" fill="#466e5a"/>
<rect x="1438.35" y="608.7" width="2.5" height="0.9" fill="#0a5a2e"/>
<rect x="1442.25" y="570.7" width="0.9" height="29.2" fill="#466e5a"/>
<rect x="1441.45" y="593.1" width="2.5" height="6.0" fill="#7a1f1a"/>
<rect x="1442.25" y="593.9" width="0.9" height="4.4" fill="#ff6a60"/>
<rect x="1444.85" y="594.0" width="0.9" height="17.5" fill="#466e5a"/>
<rect x="1444.05" y="601.0" width="2.5" height="3.4" fill="#7a1f1a"/>
<rect x="1444.85" y="601.8" width="0.9" height="1.8" fill="#ff6a60"/>
<rect x="1448.05" y="581.9" width="0.9" height="23.9" fill="#466e5a"/>
<rect x="1447.25" y="591.9" width="2.5" height="9.7" fill="#0a5a2e"/>
<rect x="1448.05" y="592.7" width="0.9" height="8.1" fill="#00c870"/>
<rect x="1450.85" y="583.4" width="0.9" height="12.0" fill="#466e5a"/>
<rect x="1450.05" y="593.5" width="2.5" height="0.9" fill="#0a5a2e"/>
<rect x="1453.85" y="588.6" width="0.9" height="18.0" fill="#466e5a"/>
<rect x="1453.05" y="592.7" width="2.5" height="1.9" fill="#0a5a2e"/>
<rect x="1456.65" y="588.6" width="0.9" height="18.0" fill="#466e5a"/>
<rect x="1455.85" y="592.7" width="2.5" height="8.6" fill="#7a1f1a"/>
<rect x="1456.65" y="593.5" width="0.9" height="7.0" fill="#ff6a60"/>
<rect x="1460.05" y="592.4" width="0.9" height="9.7" fill="#466e5a"/>
<rect x="1459.25" y="595.4" width="2.5" height="6.2" fill="#0a5a2e"/>
<rect x="1460.05" y="596.2" width="0.9" height="4.6" fill="#00c870"/>
<rect x="1462.35" y="579.2" width="0.9" height="46.4" fill="#466e5a"/>
<rect x="1461.55" y="595.1" width="2.5" height="29.9" fill="#0a5a2e"/>
<rect x="1462.35" y="595.9" width="0.9" height="28.3" fill="#00c870"/>
<rect x="1466.05" y="597.6" width="0.9" height="9.0" fill="#466e5a"/>
<rect x="1465.25" y="598.4" width="2.5" height="7.4" fill="#7a1f1a"/>
<rect x="1466.05" y="599.2" width="0.9" height="5.8" fill="#ff6a60"/>
<rect x="1468.75" y="604.5" width="0.9" height="2.5" fill="#466e5a"/>
<rect x="1467.95" y="605.4" width="2.5" height="0.9" fill="#7a1f1a"/>
<rect x="1471.35" y="592.7" width="0.9" height="19.4" fill="#466e5a"/>
<rect x="1470.55" y="593.1" width="2.5" height="18.4" fill="#7a1f1a"/>
<rect x="1471.35" y="593.9" width="0.9" height="16.8" fill="#ff6a60"/>
<rect x="1474.75" y="601.3" width="0.9" height="10.2" fill="#466e5a"/>
<rect x="1473.95" y="606.1" width="2.5" height="4.5" fill="#0a5a2e"/>
<rect x="1474.75" y="606.9" width="0.9" height="2.9" fill="#00c870"/>
<rect x="1477.35" y="592.1" width="0.9" height="15.5" fill="#466e5a"/>
<rect x="1476.55" y="596.1" width="2.5" height="10.9" fill="#0a5a2e"/>
<rect x="1477.35" y="596.9" width="0.9" height="9.3" fill="#00c870"/>
<rect x="1480.75" y="590.9" width="0.9" height="8.7" fill="#466e5a"/>
<rect x="1479.95" y="593.6" width="2.5" height="3.0" fill="#0a5a2e"/>
<rect x="1480.75" y="594.4" width="0.9" height="1.4" fill="#00c870"/>
<rect x="1482.95" y="571.4" width="0.9" height="15.3" fill="#466e5a"/>
<rect x="1482.15" y="575.6" width="2.5" height="9.0" fill="#0a5a2e"/>
<rect x="1482.95" y="576.4" width="0.9" height="7.4" fill="#00c870"/>
<rect x="1486.25" y="569.2" width="0.9" height="6.7" fill="#466e5a"/>
<rect x="1485.45" y="569.9" width="2.5" height="5.2" fill="#0a5a2e"/>
<rect x="1486.25" y="570.7" width="0.9" height="3.6" fill="#00c870"/>
<rect x="1488.95" y="564.2" width="0.9" height="18.0" fill="#466e5a"/>
<rect x="1488.15" y="569.2" width="2.5" height="8.5" fill="#7a1f1a"/>
<rect x="1488.95" y="570.0" width="0.9" height="6.9" fill="#ff6a60"/>
<rect x="1492.25" y="569.9" width="0.9" height="9.7" fill="#466e5a"/>
<rect x="1491.45" y="572.2" width="2.5" height="4.0" fill="#0a5a2e"/>
<rect x="1492.25" y="573.0" width="0.9" height="2.4" fill="#00c870"/>
<g stroke="#3d85c6" stroke-width="4.6" fill="none" stroke-linecap="round" stroke-linejoin="miter"><path d="M1559 217.4 L1559 231"/><path d="M1551.6 224 L1559 231.5 L1566.4 224"/><path d="M1524.2 520 L1524.6 506.5"/><path d="M1517.2 513 L1524.7 505.9 L1532 513.3"/></g>
<circle cx="1490.2" cy="550.1" r="6.7" fill="#1b8cff"/>
<text x="1490.2" y="553.2" text-anchor="middle" font-size="8.6" font-weight="bold" fill="#fff">P</text>
<rect x="1841" y="566.1" width="29" height="12.8" fill="#4a6de0"/>
<rect x="1841" y="571.6" width="3" height="1" fill="#fff"/>
<text x="1847.2" y="575.9" font-size="9" font-weight="bold" fill="#fff">18.74</text>
<path d="M21 8.6 H11.4 V18.4 H21 M12 13.5 H20.5" stroke="#8a8a8a" stroke-width="1" fill="none"/>
<text class="tt" id="title" x="27" y="18.8" textLength="292" lengthAdjust="spacingAndGlyphs">Flowco Holdings Inc, United States, 300, NYSE</text>
<path d="M323.2 13 L328.8 13 L326 16 Z" fill="#b5b7bd"/>
<rect x="337.1" y="8.1" width="11.6" height="10.7" fill="#d9d9d9"/><path d="M338.6 13.7 Q342.9 8.6 347.2 13.7 Q342.9 18.8 338.6 13.7 Z" fill="#fff"/><circle cx="342.9" cy="13.7" r="2.05" fill="#d9d9d9"/><circle cx="342.9" cy="13.7" r="0.95" fill="#fff"/>
<rect x="352.1" y="8.1" width="10.8" height="10.7" fill="#d9d9d9"/><circle cx="357.5" cy="13.7" r="3.2" fill="#fff"/><circle cx="357.5" cy="13.7" r="3.7" fill="none" stroke="#fff" stroke-width="1.5" stroke-dasharray="1.45 1.455"/><circle cx="357.5" cy="13.7" r="1.55" fill="#d9d9d9"/>
<text class="oh" x="369.7" y="17.4">O</text><text class="ov" x="380.5" y="17.4" textLength="28.7" lengthAdjust="spacingAndGlyphs">18.65</text>
<text class="oh" x="418.0" y="17.4">H</text><text class="ov" x="429.3" y="17.4" textLength="28.7" lengthAdjust="spacingAndGlyphs">18.78</text>
<text class="oh" x="466.2" y="17.4">L</text><text class="ov" x="474.7" y="17.4" textLength="28.7" lengthAdjust="spacingAndGlyphs">18.56</text>
<text class="oh" x="512.4" y="17.4">C</text><text class="ov" x="522.8" y="17.4" textLength="28.7" lengthAdjust="spacingAndGlyphs">18.74</text>
<text x="16.4" y="822.4" font-size="17.2" font-weight="bold" fill="#0d0d0d" stroke="#0d0d0d" stroke-width="0.45" textLength="76" lengthAdjust="spacingAndGlyphs">Investing</text>
<text x="92.5" y="822.4" font-size="13" fill="#4a4a4a" textLength="23.4" lengthAdjust="spacingAndGlyphs">.com</text>
<rect x="66.3" y="808.6" width="4" height="4.2" fill="#fff"/><ellipse cx="68.6" cy="810.6" rx="1.3" ry="2.1" transform="rotate(38 68.6 810.6)" fill="#f7931e"/>
</svg></body></html>
